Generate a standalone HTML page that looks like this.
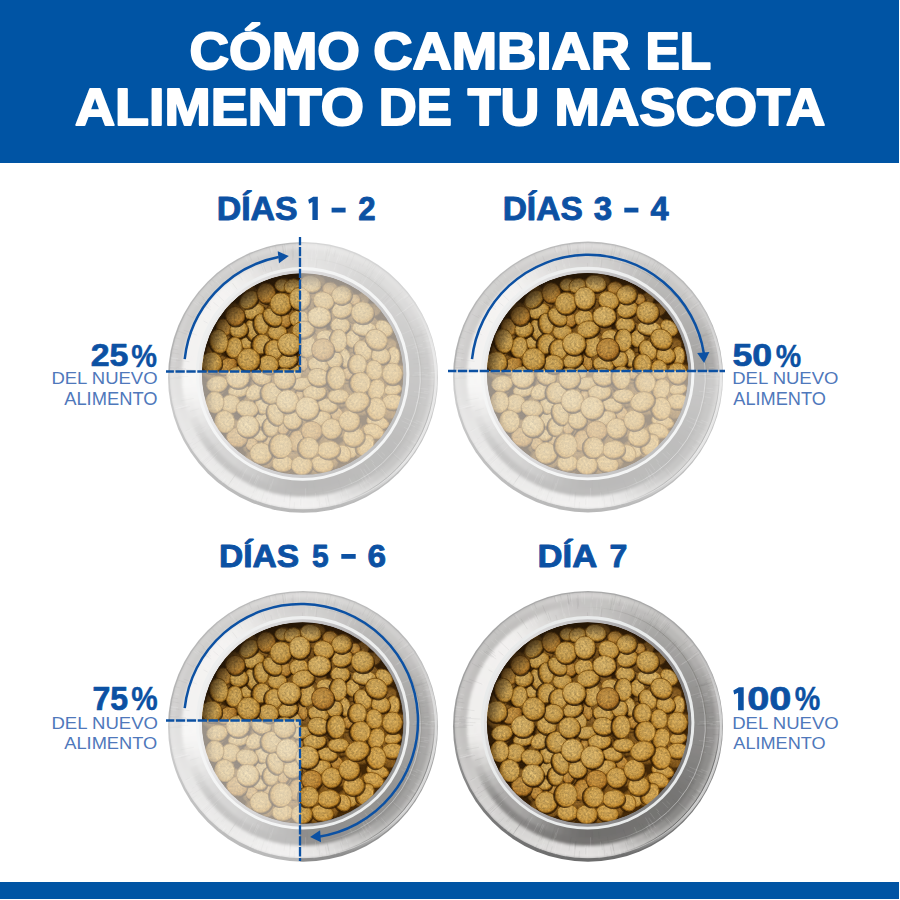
<!DOCTYPE html>
<html><head><meta charset="utf-8"><title>Cómo cambiar el alimento de tu mascota</title>
<style>html,body{margin:0;padding:0;background:#fff;}body{width:900px;height:900px;overflow:hidden;font-family:"Liberation Sans",sans-serif;}svg{display:block}</style>
</head><body>
<svg width="900" height="900" viewBox="0 0 900 900">

<defs>
<radialGradient id="kl" cx="0.46" cy="0.43" r="0.6">
 <stop offset="0" stop-color="#c8a967"/><stop offset="0.6" stop-color="#c19e59"/><stop offset="0.84" stop-color="#b4883a"/><stop offset="1" stop-color="#9a6b22"/>
</radialGradient>
<radialGradient id="km" cx="0.46" cy="0.43" r="0.6">
 <stop offset="0" stop-color="#c19f5b"/><stop offset="0.58" stop-color="#ba944c"/><stop offset="0.84" stop-color="#ae7f30"/><stop offset="1" stop-color="#93641e"/>
</radialGradient>
<radialGradient id="ko" cx="0.46" cy="0.43" r="0.6">
 <stop offset="0" stop-color="#b48a45"/><stop offset="0.58" stop-color="#ac7e37"/><stop offset="0.84" stop-color="#9c6824"/><stop offset="1" stop-color="#825317"/>
</radialGradient>
<linearGradient id="warm" x1="0.15" y1="0.1" x2="0.9" y2="0.95">
 <stop offset="0" stop-color="#403000" stop-opacity="0.10"/><stop offset="0.45" stop-color="#ff9a10" stop-opacity="0"/><stop offset="1" stop-color="#ff9a10" stop-opacity="0.13"/>
</linearGradient>
<radialGradient id="kd" cx="0.45" cy="0.4" r="0.65">
 <stop offset="0" stop-color="#805a26"/><stop offset="0.7" stop-color="#6c4919"/><stop offset="1" stop-color="#48300e"/>
</radialGradient>
<linearGradient id="edge" x1="0" y1="0" x2="0" y2="1">
 <stop offset="0" stop-color="#a9a9a9"/><stop offset="0.5" stop-color="#9a9a9a"/><stop offset="0.8" stop-color="#7c7c7c"/><stop offset="1" stop-color="#6c6c6c"/>
</linearGradient>
<linearGradient id="wall" x1="0" y1="0.3" x2="1" y2="0.75">
 <stop offset="0" stop-color="#ececec"/><stop offset="0.3" stop-color="#c2c0c2"/><stop offset="0.6" stop-color="#989698"/><stop offset="1" stop-color="#747474"/>
</linearGradient>
<filter id="soft" x="-0.05" y="-0.05" width="1.1" height="1.1"><feGaussianBlur stdDeviation="1.6"/></filter>
<clipPath id="lipclip"><ellipse cx="0" cy="-0.5" rx="133.3" ry="133"/></clipPath>
<radialGradient id="shade" cx="0.54" cy="0.56" r="0.56">
 <stop offset="0.86" stop-color="#1e1206" stop-opacity="0"/><stop offset="1" stop-color="#1e1206" stop-opacity="0.7"/>
</radialGradient>
<filter id="grain" x="-0.02" y="-0.02" width="1.04" height="1.04" color-interpolation-filters="sRGB">
 <feTurbulence type="fractalNoise" baseFrequency="0.45" numOctaves="3" seed="7" result="n"/>
 <feColorMatrix in="n" type="matrix" values="0.5 0.5 0 0 0  0.5 0.5 0 0 0  0.5 0.5 0 0 0  0 0 0 0 1" result="g"/>
 <feComposite in="SourceGraphic" in2="g" operator="arithmetic" k1="0.76" k2="0.65" k3="0" k4="0" result="c"/>
 <feComposite in="c" in2="SourceGraphic" operator="in" result="d"/>
 <feGaussianBlur in="d" stdDeviation="0.45"/>
</filter>
<clipPath id="foodclip"><circle cx="-0.4" cy="-2.7" r="100.75"/></clipPath>
<linearGradient id="af0" gradientUnits="userSpaceOnUse" x1="-10.3" y1="-118.0" x2="59.3" y2="102.6"><stop offset="0" stop-color="#77756f" stop-opacity="0"/><stop offset="0.25" stop-color="#77756f" stop-opacity="0.55"/><stop offset="0.75" stop-color="#77756f" stop-opacity="0.55"/><stop offset="1" stop-color="#77756f" stop-opacity="0"/></linearGradient>
<linearGradient id="af1" gradientUnits="userSpaceOnUse" x1="96.1" y1="-67.3" x2="10.2" y2="116.9"><stop offset="0" stop-color="#dddddd" stop-opacity="0"/><stop offset="0.25" stop-color="#dddddd" stop-opacity="0.6"/><stop offset="0.75" stop-color="#dddddd" stop-opacity="0.6"/><stop offset="1" stop-color="#dddddd" stop-opacity="0"/></linearGradient>
<linearGradient id="af2" gradientUnits="userSpaceOnUse" x1="94.0" y1="-94.0" x2="34.4" y2="128.5"><stop offset="0" stop-color="#dcdcdc" stop-opacity="0"/><stop offset="0.25" stop-color="#dcdcdc" stop-opacity="0.8"/><stop offset="0.75" stop-color="#dcdcdc" stop-opacity="0.8"/><stop offset="1" stop-color="#dcdcdc" stop-opacity="0"/></linearGradient>
<linearGradient id="af3" gradientUnits="userSpaceOnUse" x1="130.8" y1="-11.4" x2="34.0" y2="126.8"><stop offset="0" stop-color="#5c5c5c" stop-opacity="0"/><stop offset="0.25" stop-color="#5c5c5c" stop-opacity="0.75"/><stop offset="0.75" stop-color="#5c5c5c" stop-opacity="0.75"/><stop offset="1" stop-color="#5c5c5c" stop-opacity="0"/></linearGradient>
<g id="bowl">
 <ellipse cx="0" cy="0.6" rx="135" ry="135.4" fill="url(#edge)"/>
 <g clip-path="url(#lipclip)"><g filter="url(#soft)">
 <polygon points="134.0,-1.7 133.6,10.4 127.1,9.9 127.5,-1.6" fill="#b0aead"/>
<polygon points="133.8,7.6 132.5,19.7 126.1,18.7 127.3,7.2" fill="#b0aead"/>
<polygon points="132.9,16.9 130.8,28.8 124.4,27.4 126.4,16.1" fill="#afadac"/>
<polygon points="131.4,26.1 128.4,37.9 122.2,36.0 125.0,24.8" fill="#aeadab"/>
<polygon points="129.2,35.2 125.4,46.7 119.3,44.4 122.9,33.5" fill="#adacaa"/>
<polygon points="126.4,44.1 121.8,55.3 115.9,52.6 120.3,41.9" fill="#acaba9"/>
<polygon points="123.0,52.8 117.6,63.7 111.9,60.6 117.0,50.2" fill="#abaaa8"/>
<polygon points="119.0,61.2 112.9,71.7 107.4,68.2 113.2,58.2" fill="#aaa9a7"/>
<polygon points="114.4,69.3 107.6,79.4 102.4,75.5 108.8,65.9" fill="#a9a8a6"/>
<polygon points="109.2,77.1 101.7,86.6 96.8,82.4 103.9,73.3" fill="#a9a7a6"/>
<polygon points="103.5,84.5 95.4,93.5 90.8,89.0 98.5,80.4" fill="#a8a7a5"/>
<polygon points="97.4,91.5 88.6,99.9 84.3,95.1 92.6,87.0" fill="#a8a7a5"/>
<polygon points="90.7,98.0 81.4,105.8 77.4,100.7 86.3,93.3" fill="#aaa9a7"/>
<polygon points="83.6,104.1 73.8,111.2 70.2,105.8 79.5,99.0" fill="#aeadab"/>
<polygon points="76.1,109.7 65.8,116.1 62.6,110.4 72.4,104.3" fill="#b4b3b1"/>
<polygon points="68.2,114.7 57.5,120.4 54.7,114.5 64.9,109.1" fill="#bbbab8"/>
<polygon points="60.0,119.2 48.9,124.1 46.5,118.1 57.1,113.4" fill="#c3c2c0"/>
<polygon points="51.5,123.0 40.1,127.2 38.1,121.0 49.0,117.1" fill="#cbc9c8"/>
<polygon points="42.7,126.3 31.1,129.7 29.5,123.4 40.7,120.2" fill="#d3d1d0"/>
<polygon points="33.8,129.0 21.9,131.5 20.8,125.1 32.1,122.7" fill="#d9d8d6"/>
<polygon points="24.6,131.0 12.6,132.7 12.0,126.3 23.5,124.6" fill="#dfdddc"/>
<polygon points="15.4,132.4 3.3,133.3 3.1,126.8 14.7,126.0" fill="#e3e1e0"/>
<polygon points="6.1,133.2 -6.1,133.2 -5.8,126.7 5.8,126.7" fill="#e4e2e1"/>
<polygon points="-3.3,133.3 -15.4,132.4 -14.7,126.0 -3.1,126.8" fill="#e4e2e1"/>
<polygon points="-12.6,132.7 -24.6,131.0 -23.5,124.6 -12.0,126.3" fill="#e3e1e0"/>
<polygon points="-21.9,131.5 -33.8,129.0 -32.1,122.7 -20.8,125.1" fill="#e2e0df"/>
<polygon points="-31.1,129.7 -42.7,126.3 -40.7,120.2 -29.5,123.4" fill="#e1dfde"/>
<polygon points="-40.1,127.2 -51.5,123.0 -49.0,117.1 -38.1,121.0" fill="#dfdddc"/>
<polygon points="-48.9,124.1 -60.0,119.2 -57.1,113.4 -46.5,118.1" fill="#dddcda"/>
<polygon points="-57.5,120.4 -68.2,114.7 -64.9,109.1 -54.7,114.5" fill="#dcdad9"/>
<polygon points="-65.8,116.1 -76.1,109.7 -72.4,104.3 -62.6,110.4" fill="#dad9d7"/>
<polygon points="-73.8,111.2 -83.6,104.1 -79.5,99.0 -70.2,105.8" fill="#d9d8d6"/>
<polygon points="-81.4,105.8 -90.7,98.0 -86.3,93.3 -77.4,100.7" fill="#d8d7d5"/>
<polygon points="-88.6,99.9 -97.4,91.5 -92.6,87.0 -84.3,95.1" fill="#d8d7d5"/>
<polygon points="-95.4,93.5 -103.5,84.5 -98.5,80.4 -90.8,89.0" fill="#d8d6d5"/>
<polygon points="-101.7,86.6 -109.2,77.1 -103.9,73.3 -96.8,82.4" fill="#d7d5d4"/>
<polygon points="-107.6,79.4 -114.4,69.3 -108.8,65.9 -102.4,75.5" fill="#d6d4d3"/>
<polygon points="-112.9,71.7 -119.0,61.2 -113.2,58.2 -107.4,68.2" fill="#d4d2d1"/>
<polygon points="-117.6,63.7 -123.0,52.8 -117.0,50.2 -111.9,60.6" fill="#d2d0cf"/>
<polygon points="-121.8,55.3 -126.4,44.1 -120.3,41.9 -115.9,52.6" fill="#d0cecd"/>
<polygon points="-125.4,46.7 -129.2,35.2 -122.9,33.5 -119.3,44.4" fill="#cecccb"/>
<polygon points="-128.4,37.9 -131.4,26.1 -125.0,24.8 -122.2,36.0" fill="#cccac9"/>
<polygon points="-130.8,28.8 -132.9,16.9 -126.4,16.1 -124.4,27.4" fill="#cac9c7"/>
<polygon points="-132.5,19.7 -133.8,7.6 -127.3,7.2 -126.1,18.7" fill="#c9c7c6"/>
<polygon points="-133.6,10.4 -134.0,-1.7 -127.5,-1.6 -127.1,9.9" fill="#c8c7c5"/>
<polygon points="-134.0,1.1 -133.6,-11.0 -127.1,-10.5 -127.5,1.0" fill="#c8c6c5"/>
<polygon points="-133.8,-8.2 -132.5,-20.3 -126.1,-19.3 -127.3,-7.8" fill="#c8c6c5"/>
<polygon points="-132.9,-17.5 -130.8,-29.4 -124.4,-28.0 -126.4,-16.7" fill="#c8c6c5"/>
<polygon points="-131.4,-26.7 -128.4,-38.5 -122.2,-36.6 -125.0,-25.4" fill="#c8c6c5"/>
<polygon points="-129.2,-35.8 -125.4,-47.3 -119.3,-45.0 -122.9,-34.1" fill="#c7c6c4"/>
<polygon points="-126.4,-44.7 -121.8,-55.9 -115.9,-53.2 -120.3,-42.5" fill="#c7c6c4"/>
<polygon points="-123.0,-53.4 -117.6,-64.3 -111.9,-61.2 -117.0,-50.8" fill="#c7c5c4"/>
<polygon points="-119.0,-61.8 -112.9,-72.3 -107.4,-68.8 -113.2,-58.8" fill="#c7c5c4"/>
<polygon points="-114.4,-69.9 -107.6,-80.0 -102.4,-76.1 -108.8,-66.5" fill="#c6c5c3"/>
<polygon points="-109.2,-77.7 -101.7,-87.2 -96.8,-83.0 -103.9,-73.9" fill="#c6c5c3"/>
<polygon points="-103.5,-85.1 -95.4,-94.1 -90.8,-89.6 -98.5,-81.0" fill="#c6c5c3"/>
<polygon points="-97.4,-92.1 -88.6,-100.5 -84.3,-95.7 -92.6,-87.6" fill="#c6c5c3"/>
<polygon points="-90.7,-98.6 -81.4,-106.4 -77.4,-101.3 -86.3,-93.9" fill="#c6c5c3"/>
<polygon points="-83.6,-104.7 -73.8,-111.8 -70.2,-106.4 -79.5,-99.6" fill="#c7c6c4"/>
<polygon points="-76.1,-110.3 -65.8,-116.7 -62.6,-111.0 -72.4,-104.9" fill="#c9c7c6"/>
<polygon points="-68.2,-115.3 -57.5,-121.0 -54.7,-115.1 -64.9,-109.7" fill="#cac9c7"/>
<polygon points="-60.0,-119.8 -48.9,-124.7 -46.5,-118.7 -57.1,-114.0" fill="#cccbc9"/>
<polygon points="-51.5,-123.6 -40.1,-127.8 -38.1,-121.6 -49.0,-117.7" fill="#cecdcb"/>
<polygon points="-42.7,-126.9 -31.1,-130.3 -29.5,-124.0 -40.7,-120.8" fill="#d0cecd"/>
<polygon points="-33.8,-129.6 -21.9,-132.1 -20.8,-125.7 -32.1,-123.3" fill="#d2d0cf"/>
<polygon points="-24.6,-131.6 -12.6,-133.3 -12.0,-126.9 -23.5,-125.2" fill="#d3d1d0"/>
<polygon points="-15.4,-133.0 -3.3,-133.9 -3.1,-127.4 -14.7,-126.6" fill="#d4d2d1"/>
<polygon points="-6.1,-133.8 6.1,-133.8 5.8,-127.3 -5.8,-127.3" fill="#d4d2d1"/>
<polygon points="3.3,-133.9 15.4,-133.0 14.7,-126.6 3.1,-127.4" fill="#d4d2d1"/>
<polygon points="12.6,-133.3 24.6,-131.6 23.5,-125.2 12.0,-126.9" fill="#d3d1d0"/>
<polygon points="21.9,-132.1 33.8,-129.6 32.1,-123.3 20.8,-125.7" fill="#d1d0ce"/>
<polygon points="31.1,-130.3 42.7,-126.9 40.7,-120.8 29.5,-124.0" fill="#cfcecc"/>
<polygon points="40.1,-127.8 51.5,-123.6 49.0,-117.7 38.1,-121.6" fill="#cdccca"/>
<polygon points="48.9,-124.7 60.0,-119.8 57.1,-114.0 46.5,-118.7" fill="#cbcac8"/>
<polygon points="57.5,-121.0 68.2,-115.3 64.9,-109.7 54.7,-115.1" fill="#c9c8c6"/>
<polygon points="65.8,-116.7 76.1,-110.3 72.4,-104.9 62.6,-111.0" fill="#c7c6c4"/>
<polygon points="73.8,-111.8 83.6,-104.7 79.5,-99.6 70.2,-106.4" fill="#c6c4c3"/>
<polygon points="81.4,-106.4 90.7,-98.6 86.3,-93.9 77.4,-101.3" fill="#c5c3c2"/>
<polygon points="88.6,-100.5 97.4,-92.1 92.6,-87.6 84.3,-95.7" fill="#c4c3c1"/>
<polygon points="95.4,-94.1 103.5,-85.1 98.5,-81.0 90.8,-89.6" fill="#c4c2c1"/>
<polygon points="101.7,-87.2 109.2,-77.7 103.9,-73.9 96.8,-83.0" fill="#c3c1c0"/>
<polygon points="107.6,-80.0 114.4,-69.9 108.8,-66.5 102.4,-76.1" fill="#c1bfbe"/>
<polygon points="112.9,-72.3 119.0,-61.8 113.2,-58.8 107.4,-68.8" fill="#bfbdbc"/>
<polygon points="117.6,-64.3 123.0,-53.4 117.0,-50.8 111.9,-61.2" fill="#bcbbb9"/>
<polygon points="121.8,-55.9 126.4,-44.7 120.3,-42.5 115.9,-53.2" fill="#bab8b7"/>
<polygon points="125.4,-47.3 129.2,-35.8 122.9,-34.1 119.3,-45.0" fill="#b7b6b4"/>
<polygon points="128.4,-38.5 131.4,-26.7 125.0,-25.4 122.2,-36.6" fill="#b5b3b2"/>
<polygon points="130.8,-29.4 132.9,-17.5 126.4,-16.7 124.4,-28.0" fill="#b3b1b0"/>
<polygon points="132.5,-20.3 133.8,-8.2 127.3,-7.8 126.1,-19.3" fill="#b1afae"/>
<polygon points="133.6,-11.0 134.0,1.1 127.5,1.0 127.1,-10.5" fill="#b0afad"/>
<polygon points="128.0,-1.6 127.6,9.9 120.1,9.3 120.5,-1.6" fill="#92908f"/>
<polygon points="127.8,7.3 126.6,18.8 119.1,17.7 120.3,6.8" fill="#92908f"/>
<polygon points="126.9,16.1 124.9,27.5 117.6,25.9 119.5,15.2" fill="#918f8e"/>
<polygon points="125.5,24.9 122.7,36.2 115.5,34.0 118.1,23.4" fill="#908f8d"/>
<polygon points="123.4,33.6 119.8,44.6 112.8,42.0 116.2,31.6" fill="#8f8e8c"/>
<polygon points="120.7,42.1 116.4,52.8 109.6,49.7 113.7,39.6" fill="#8e8d8b"/>
<polygon points="117.5,50.4 112.4,60.8 105.8,57.2 110.6,47.4" fill="#8d8c8a"/>
<polygon points="113.6,58.4 107.8,68.5 101.5,64.4 107.0,55.0" fill="#8c8b89"/>
<polygon points="109.3,66.2 102.8,75.8 96.7,71.3 102.9,62.3" fill="#8b8a88"/>
<polygon points="104.3,73.6 97.2,82.7 91.5,77.9 98.2,69.3" fill="#8b8988"/>
<polygon points="98.9,80.7 91.1,89.3 85.8,84.1 93.1,76.0" fill="#8a8987"/>
<polygon points="93.0,87.4 84.6,95.4 79.7,89.8 87.6,82.2" fill="#8a8987"/>
<polygon points="86.6,93.6 77.7,101.1 73.2,95.1 81.6,88.1" fill="#8d8c8a"/>
<polygon points="79.9,99.4 70.5,106.2 66.3,100.0 75.2,93.6" fill="#939290"/>
<polygon points="72.7,104.7 62.8,110.9 59.2,104.4 68.4,98.6" fill="#9c9a99"/>
<polygon points="65.2,109.5 54.9,115.0 51.7,108.2 61.3,103.1" fill="#a6a5a3"/>
<polygon points="57.3,113.8 46.7,118.5 44.0,111.6 54.0,107.1" fill="#b2b0af"/>
<polygon points="49.2,117.5 38.3,121.5 36.0,114.3 46.3,110.6" fill="#bdbcba"/>
<polygon points="40.8,120.7 29.7,123.8 27.9,116.6 38.4,113.6" fill="#c9c7c6"/>
<polygon points="32.3,123.2 20.9,125.6 19.7,118.2 30.4,116.0" fill="#d3d1d0"/>
<polygon points="23.5,125.1 12.0,126.7 11.3,119.3 22.2,117.8" fill="#dbd9d8"/>
<polygon points="14.7,126.5 3.1,127.3 2.9,119.8 13.8,119.0" fill="#e0dfdd"/>
<polygon points="5.8,127.2 -5.8,127.2 -5.5,119.7 5.5,119.7" fill="#e2e0df"/>
<polygon points="-3.1,127.3 -14.7,126.5 -13.8,119.0 -2.9,119.8" fill="#e2e0df"/>
<polygon points="-12.0,126.7 -23.5,125.1 -22.2,117.8 -11.3,119.3" fill="#e1dfde"/>
<polygon points="-20.9,125.6 -32.3,123.2 -30.4,116.0 -19.7,118.2" fill="#e0dedd"/>
<polygon points="-29.7,123.8 -40.8,120.7 -38.4,113.6 -27.9,116.6" fill="#dedcdb"/>
<polygon points="-38.3,121.5 -49.2,117.5 -46.3,110.6 -36.0,114.3" fill="#dcdbd9"/>
<polygon points="-46.7,118.5 -57.3,113.8 -54.0,107.1 -44.0,111.6" fill="#dad9d7"/>
<polygon points="-54.9,115.0 -65.2,109.5 -61.3,103.1 -51.7,108.2" fill="#d8d7d5"/>
<polygon points="-62.8,110.9 -72.7,104.7 -68.4,98.6 -59.2,104.4" fill="#d7d5d4"/>
<polygon points="-70.5,106.2 -79.9,99.4 -75.2,93.6 -66.3,100.0" fill="#d5d4d2"/>
<polygon points="-77.7,101.1 -86.6,93.6 -81.6,88.1 -73.2,95.1" fill="#d4d3d1"/>
<polygon points="-84.6,95.4 -93.0,87.4 -87.6,82.2 -79.7,89.8" fill="#d4d3d1"/>
<polygon points="-91.1,89.3 -98.9,80.7 -93.1,76.0 -85.8,84.1" fill="#d4d2d1"/>
<polygon points="-97.2,82.7 -104.3,73.6 -98.2,69.3 -91.5,77.9" fill="#d3d1d0"/>
<polygon points="-102.8,75.8 -109.3,66.2 -102.9,62.3 -96.7,71.3" fill="#d1d0ce"/>
<polygon points="-107.8,68.5 -113.6,58.4 -107.0,55.0 -101.5,64.4" fill="#d0cecd"/>
<polygon points="-112.4,60.8 -117.5,50.4 -110.6,47.4 -105.8,57.2" fill="#cdccca"/>
<polygon points="-116.4,52.8 -120.7,42.1 -113.7,39.6 -109.6,49.7" fill="#cbcac8"/>
<polygon points="-119.8,44.6 -123.4,33.6 -116.2,31.6 -112.8,42.0" fill="#c9c7c6"/>
<polygon points="-122.7,36.2 -125.5,24.9 -118.1,23.4 -115.5,34.0" fill="#c7c5c4"/>
<polygon points="-124.9,27.5 -126.9,16.1 -119.5,15.2 -117.6,25.9" fill="#c5c4c2"/>
<polygon points="-126.6,18.8 -127.8,7.3 -120.3,6.8 -119.1,17.7" fill="#c4c2c1"/>
<polygon points="-127.6,9.9 -128.0,-1.6 -120.5,-1.6 -120.1,9.3" fill="#c3c2c0"/>
<polygon points="-128.0,1.0 -127.6,-10.5 -120.1,-9.9 -120.5,1.0" fill="#c3c1c0"/>
<polygon points="-127.8,-7.9 -126.6,-19.4 -119.1,-18.3 -120.3,-7.4" fill="#c3c1c0"/>
<polygon points="-126.9,-16.7 -124.9,-28.1 -117.6,-26.5 -119.5,-15.8" fill="#c3c1c0"/>
<polygon points="-125.5,-25.5 -122.7,-36.8 -115.5,-34.6 -118.1,-24.0" fill="#c2c1bf"/>
<polygon points="-123.4,-34.2 -119.8,-45.2 -112.8,-42.6 -116.2,-32.2" fill="#c2c0bf"/>
<polygon points="-120.7,-42.7 -116.4,-53.4 -109.6,-50.3 -113.7,-40.2" fill="#c2c0bf"/>
<polygon points="-117.5,-51.0 -112.4,-61.4 -105.8,-57.8 -110.6,-48.0" fill="#c1c0be"/>
<polygon points="-113.6,-59.0 -107.8,-69.1 -101.5,-65.0 -107.0,-55.6" fill="#c1bfbe"/>
<polygon points="-109.3,-66.8 -102.8,-76.4 -96.7,-71.9 -102.9,-62.9" fill="#c0bfbd"/>
<polygon points="-104.3,-74.2 -97.2,-83.3 -91.5,-78.5 -98.2,-69.9" fill="#c0bfbd"/>
<polygon points="-98.9,-81.3 -91.1,-89.9 -85.8,-84.7 -93.1,-76.6" fill="#c0bfbd"/>
<polygon points="-93.0,-88.0 -84.6,-96.0 -79.7,-90.4 -87.6,-82.8" fill="#c0bfbd"/>
<polygon points="-86.6,-94.2 -77.7,-101.7 -73.2,-95.7 -81.6,-88.7" fill="#c0bfbd"/>
<polygon points="-79.9,-100.0 -70.5,-106.8 -66.3,-100.6 -75.2,-94.2" fill="#c1bfbe"/>
<polygon points="-72.7,-105.3 -62.8,-111.5 -59.2,-105.0 -68.4,-99.2" fill="#c1c0be"/>
<polygon points="-65.2,-110.1 -54.9,-115.6 -51.7,-108.8 -61.3,-103.7" fill="#c2c0bf"/>
<polygon points="-57.3,-114.4 -46.7,-119.1 -44.0,-112.2 -54.0,-107.7" fill="#c2c1bf"/>
<polygon points="-49.2,-118.1 -38.3,-122.1 -36.0,-114.9 -46.3,-111.2" fill="#c3c1c0"/>
<polygon points="-40.8,-121.3 -29.7,-124.4 -27.9,-117.2 -38.4,-114.2" fill="#c4c2c1"/>
<polygon points="-32.3,-123.8 -20.9,-126.2 -19.7,-118.8 -30.4,-116.6" fill="#c4c3c1"/>
<polygon points="-23.5,-125.7 -12.0,-127.3 -11.3,-119.9 -22.2,-118.4" fill="#c5c3c2"/>
<polygon points="-14.7,-127.1 -3.1,-127.9 -2.9,-120.4 -13.8,-119.6" fill="#c5c3c2"/>
<polygon points="-5.8,-127.8 5.8,-127.8 5.5,-120.3 -5.5,-120.3" fill="#c5c4c2"/>
<polygon points="3.1,-127.9 14.7,-127.1 13.8,-119.6 2.9,-120.4" fill="#c5c3c2"/>
<polygon points="12.0,-127.3 23.5,-125.7 22.2,-118.4 11.3,-119.9" fill="#c4c3c1"/>
<polygon points="20.9,-126.2 32.3,-123.8 30.4,-116.6 19.7,-118.8" fill="#c3c2c0"/>
<polygon points="29.7,-124.4 40.8,-121.3 38.4,-114.2 27.9,-117.2" fill="#c2c0bf"/>
<polygon points="38.3,-122.1 49.2,-118.1 46.3,-111.2 36.0,-114.9" fill="#c0bfbd"/>
<polygon points="46.7,-119.1 57.3,-114.4 54.0,-107.7 44.0,-112.2" fill="#bfbdbc"/>
<polygon points="54.9,-115.6 65.2,-110.1 61.3,-103.7 51.7,-108.8" fill="#bebcbb"/>
<polygon points="62.8,-111.5 72.7,-105.3 68.4,-99.2 59.2,-105.0" fill="#bcbbb9"/>
<polygon points="70.5,-106.8 79.9,-100.0 75.2,-94.2 66.3,-100.6" fill="#bbbab8"/>
<polygon points="77.7,-101.7 86.6,-94.2 81.6,-88.7 73.2,-95.7" fill="#bab9b7"/>
<polygon points="84.6,-96.0 93.0,-88.0 87.6,-82.8 79.7,-90.4" fill="#bab9b7"/>
<polygon points="91.1,-89.9 98.9,-81.3 93.1,-76.6 85.8,-84.7" fill="#b9b8b6"/>
<polygon points="97.2,-83.3 104.3,-74.2 98.2,-69.9 91.5,-78.5" fill="#b7b6b4"/>
<polygon points="102.8,-76.4 109.3,-66.8 102.9,-62.9 96.7,-71.9" fill="#b4b2b1"/>
<polygon points="107.8,-69.1 113.6,-59.0 107.0,-55.6 101.5,-65.0" fill="#b0aead"/>
<polygon points="112.4,-61.4 117.5,-51.0 110.6,-48.0 105.8,-57.8" fill="#aba9a8"/>
<polygon points="116.4,-53.4 120.7,-42.7 113.7,-40.2 109.6,-50.3" fill="#a5a4a2"/>
<polygon points="119.8,-45.2 123.4,-34.2 116.2,-32.2 112.8,-42.6" fill="#a09f9d"/>
<polygon points="122.7,-36.8 125.5,-25.5 118.1,-24.0 115.5,-34.6" fill="#9b9a98"/>
<polygon points="124.9,-28.1 126.9,-16.7 119.5,-15.8 117.6,-26.5" fill="#979694"/>
<polygon points="126.6,-19.4 127.8,-7.9 120.3,-7.4 119.1,-18.3" fill="#949291"/>
<polygon points="127.6,-10.5 128.0,1.0 120.5,1.0 120.1,-9.9" fill="#92918f"/>
<polygon points="121.0,-1.6 120.6,9.4 112.1,8.7 112.5,-1.5" fill="#8c8a89"/>
<polygon points="120.8,6.9 119.6,17.7 111.2,16.5 112.3,6.4" fill="#8b8988"/>
<polygon points="120.0,15.2 118.1,26.0 109.8,24.2 111.6,14.1" fill="#898886"/>
<polygon points="118.6,23.5 116.0,34.2 107.8,31.7 110.3,21.9" fill="#878584"/>
<polygon points="116.7,31.7 113.3,42.1 105.3,39.2 108.5,29.5" fill="#848381"/>
<polygon points="114.1,39.8 110.0,49.9 102.3,46.4 106.1,37.0" fill="#81807e"/>
<polygon points="111.0,47.6 106.2,57.4 98.8,53.4 103.2,44.2" fill="#7e7d7b"/>
<polygon points="107.4,55.2 101.9,64.7 94.8,60.1 99.9,51.3" fill="#7c7a79"/>
<polygon points="103.3,62.6 97.1,71.6 90.3,66.6 96.0,58.1" fill="#797876"/>
<polygon points="98.6,69.6 91.9,78.2 85.4,72.7 91.7,64.7" fill="#777674"/>
<polygon points="93.5,76.3 86.2,84.4 80.1,78.5 86.9,70.9" fill="#767573"/>
<polygon points="87.9,82.6 80.0,90.2 74.4,83.8 81.7,76.8" fill="#767473"/>
<polygon points="81.9,88.5 73.5,95.5 68.3,88.8 76.1,82.3" fill="#767473"/>
<polygon points="75.5,94.0 66.6,100.4 61.9,93.3 70.2,87.4" fill="#767473"/>
<polygon points="68.7,99.0 59.4,104.8 55.2,97.4 63.9,92.0" fill="#767473"/>
<polygon points="61.6,103.5 51.9,108.7 48.3,101.0 57.3,96.2" fill="#757472"/>
<polygon points="54.2,107.6 44.2,112.0 41.0,104.1 50.4,100.0" fill="#757472"/>
<polygon points="46.5,111.1 36.2,114.8 33.6,106.7 43.2,103.2" fill="#757372"/>
<polygon points="38.6,114.0 28.0,117.1 26.1,108.8 35.9,106.0" fill="#757372"/>
<polygon points="30.5,116.4 19.8,118.7 18.4,110.4 28.4,108.2" fill="#747371"/>
<polygon points="22.3,118.3 11.4,119.8 10.6,111.4 20.7,109.9" fill="#747371"/>
<polygon points="13.9,119.5 3.0,120.3 2.7,111.8 12.9,111.1" fill="#747371"/>
<polygon points="5.5,120.2 -5.5,120.2 -5.1,111.7 5.1,111.7" fill="#747271"/>
<polygon points="-3.0,120.3 -13.9,119.5 -12.9,111.1 -2.7,111.8" fill="#747371"/>
<polygon points="-11.4,119.8 -22.3,118.3 -20.7,109.9 -10.6,111.4" fill="#767473"/>
<polygon points="-19.8,118.7 -30.5,116.4 -28.4,108.2 -18.4,110.4" fill="#787675"/>
<polygon points="-28.0,117.1 -38.6,114.0 -35.9,106.0 -26.1,108.8" fill="#7a7977"/>
<polygon points="-36.2,114.8 -46.5,111.1 -43.2,103.2 -33.6,106.7" fill="#7d7c7a"/>
<polygon points="-44.2,112.0 -54.2,107.6 -50.4,100.0 -41.0,104.1" fill="#807f7d"/>
<polygon points="-51.9,108.7 -61.6,103.5 -57.3,96.2 -48.3,101.0" fill="#838180"/>
<polygon points="-59.4,104.8 -68.7,99.0 -63.9,92.0 -55.2,97.4" fill="#868483"/>
<polygon points="-66.6,100.4 -75.5,94.0 -70.2,87.4 -61.9,93.3" fill="#888685"/>
<polygon points="-73.5,95.5 -81.9,88.5 -76.1,82.3 -68.3,88.8" fill="#898886"/>
<polygon points="-80.0,90.2 -87.9,82.6 -81.7,76.8 -74.4,83.8" fill="#8a8887"/>
<polygon points="-86.2,84.4 -93.5,76.3 -86.9,70.9 -80.1,78.5" fill="#8b8a88"/>
<polygon points="-91.9,78.2 -98.6,69.6 -91.7,64.7 -85.4,72.7" fill="#918f8e"/>
<polygon points="-97.1,71.6 -103.3,62.6 -96.0,58.1 -90.3,66.6" fill="#999896"/>
<polygon points="-101.9,64.7 -107.4,55.2 -99.9,51.3 -94.8,60.1" fill="#a4a3a1"/>
<polygon points="-106.2,57.4 -111.0,47.6 -103.2,44.2 -98.8,53.4" fill="#b1b0ae"/>
<polygon points="-110.0,49.9 -114.1,39.8 -106.1,37.0 -102.3,46.4" fill="#bfbdbc"/>
<polygon points="-113.3,42.1 -116.7,31.7 -108.5,29.5 -105.3,39.2" fill="#cccbc9"/>
<polygon points="-116.0,34.2 -118.6,23.5 -110.3,21.9 -107.8,31.7" fill="#d9d7d6"/>
<polygon points="-118.1,26.0 -120.0,15.2 -111.6,14.1 -109.8,24.2" fill="#e3e2e0"/>
<polygon points="-119.6,17.7 -120.8,6.9 -112.3,6.4 -111.2,16.5" fill="#ebeae8"/>
<polygon points="-120.6,9.4 -121.0,-1.6 -112.5,-1.5 -112.1,8.7" fill="#efeeec"/>
<polygon points="-121.0,1.0 -120.6,-10.0 -112.1,-9.3 -112.5,0.9" fill="#f0efed"/>
<polygon points="-120.8,-7.5 -119.6,-18.3 -111.2,-17.1 -112.3,-7.0" fill="#f0efed"/>
<polygon points="-120.0,-15.8 -118.1,-26.6 -109.8,-24.8 -111.6,-14.7" fill="#f0efed"/>
<polygon points="-118.6,-24.1 -116.0,-34.8 -107.8,-32.3 -110.3,-22.5" fill="#f0efed"/>
<polygon points="-116.7,-32.3 -113.3,-42.7 -105.3,-39.8 -108.5,-30.1" fill="#f1efee"/>
<polygon points="-114.1,-40.4 -110.0,-50.5 -102.3,-47.0 -106.1,-37.6" fill="#f1efee"/>
<polygon points="-111.0,-48.2 -106.2,-58.0 -98.8,-54.0 -103.2,-44.8" fill="#f1f0ee"/>
<polygon points="-107.4,-55.8 -101.9,-65.3 -94.8,-60.7 -99.9,-51.9" fill="#f1f0ee"/>
<polygon points="-103.3,-63.2 -97.1,-72.2 -90.3,-67.2 -96.0,-58.7" fill="#f2f0ef"/>
<polygon points="-98.6,-70.2 -91.9,-78.8 -85.4,-73.3 -91.7,-65.3" fill="#f2f0ef"/>
<polygon points="-93.5,-76.9 -86.2,-85.0 -80.1,-79.1 -86.9,-71.5" fill="#f2f0ef"/>
<polygon points="-87.9,-83.2 -80.0,-90.8 -74.4,-84.4 -81.7,-77.4" fill="#f2f0ef"/>
<polygon points="-81.9,-89.1 -73.5,-96.1 -68.3,-89.4 -76.1,-82.9" fill="#f0efed"/>
<polygon points="-75.5,-94.6 -66.6,-101.0 -61.9,-93.9 -70.2,-88.0" fill="#edecea"/>
<polygon points="-68.7,-99.6 -59.4,-105.4 -55.2,-98.0 -63.9,-92.6" fill="#e9e8e6"/>
<polygon points="-61.6,-104.1 -51.9,-109.3 -48.3,-101.6 -57.3,-96.8" fill="#e4e2e1"/>
<polygon points="-54.2,-108.2 -44.2,-112.6 -41.0,-104.7 -50.4,-100.6" fill="#dedddb"/>
<polygon points="-46.5,-111.7 -36.2,-115.4 -33.6,-107.3 -43.2,-103.8" fill="#d8d7d5"/>
<polygon points="-38.6,-114.6 -28.0,-117.7 -26.1,-109.4 -35.9,-106.6" fill="#d3d1d0"/>
<polygon points="-30.5,-117.0 -19.8,-119.3 -18.4,-111.0 -28.4,-108.8" fill="#cecccb"/>
<polygon points="-22.3,-118.9 -11.4,-120.4 -10.6,-112.0 -20.7,-110.5" fill="#cac8c7"/>
<polygon points="-13.9,-120.1 -3.0,-120.9 -2.7,-112.4 -12.9,-111.7" fill="#c7c5c4"/>
<polygon points="-5.5,-120.8 5.5,-120.8 5.1,-112.3 -5.1,-112.3" fill="#c6c4c3"/>
<polygon points="3.0,-120.9 13.9,-120.1 12.9,-111.7 2.7,-112.4" fill="#c5c4c2"/>
<polygon points="11.4,-120.4 22.3,-118.9 20.7,-110.5 10.6,-112.0" fill="#c3c2c0"/>
<polygon points="19.8,-119.3 30.5,-117.0 28.4,-108.8 18.4,-111.0" fill="#c0bfbd"/>
<polygon points="28.0,-117.7 38.6,-114.6 35.9,-106.6 26.1,-109.4" fill="#bdbbba"/>
<polygon points="36.2,-115.4 46.5,-111.7 43.2,-103.8 33.6,-107.3" fill="#b9b7b6"/>
<polygon points="44.2,-112.6 54.2,-108.2 50.4,-100.6 41.0,-104.7" fill="#b4b3b1"/>
<polygon points="51.9,-109.3 61.6,-104.1 57.3,-96.8 48.3,-101.6" fill="#b0afad"/>
<polygon points="59.4,-105.4 68.7,-99.6 63.9,-92.6 55.2,-98.0" fill="#acaba9"/>
<polygon points="66.6,-101.0 75.5,-94.6 70.2,-88.0 61.9,-93.9" fill="#a9a8a6"/>
<polygon points="73.5,-96.1 81.9,-89.1 76.1,-82.9 68.3,-89.4" fill="#a7a6a4"/>
<polygon points="80.0,-90.8 87.9,-83.2 81.7,-77.4 74.4,-84.4" fill="#a6a5a3"/>
<polygon points="86.2,-85.0 93.5,-76.9 86.9,-71.5 80.1,-79.1" fill="#a6a4a3"/>
<polygon points="91.9,-78.8 98.6,-70.2 91.7,-65.3 85.4,-73.3" fill="#a4a3a1"/>
<polygon points="97.1,-72.2 103.3,-63.2 96.0,-58.7 90.3,-67.2" fill="#a2a19f"/>
<polygon points="101.9,-65.3 107.4,-55.8 99.9,-51.9 94.8,-60.7" fill="#9f9e9c"/>
<polygon points="106.2,-58.0 111.0,-48.2 103.2,-44.8 98.8,-54.0" fill="#9c9b99"/>
<polygon points="110.0,-50.5 114.1,-40.4 106.1,-37.6 102.3,-47.0" fill="#999796"/>
<polygon points="113.3,-42.7 116.7,-32.3 108.5,-30.1 105.3,-39.8" fill="#959492"/>
<polygon points="116.0,-34.8 118.6,-24.1 110.3,-22.5 107.8,-32.3" fill="#92908f"/>
<polygon points="118.1,-26.6 120.0,-15.8 111.6,-14.7 109.8,-24.8" fill="#8f8e8c"/>
<polygon points="119.6,-18.3 120.8,-7.5 112.3,-7.0 111.2,-17.1" fill="#8d8c8a"/>
<polygon points="120.6,-10.0 121.0,1.0 112.5,0.9 112.1,-9.3" fill="#8c8b89"/>
<polygon points="113.0,-1.5 112.6,8.7 98.7,7.6 99.0,-1.3" fill="#8c8a89"/>
<polygon points="112.8,6.4 111.7,16.5 97.9,14.5 98.8,5.6" fill="#8b8988"/>
<polygon points="112.1,14.2 110.3,24.3 96.6,21.2 98.2,12.4" fill="#898886"/>
<polygon points="110.8,22.0 108.3,31.9 94.9,27.9 97.0,19.2" fill="#878584"/>
<polygon points="108.9,29.6 105.8,39.3 92.7,34.4 95.4,25.9" fill="#848381"/>
<polygon points="106.6,37.1 102.7,46.6 90.0,40.8 93.4,32.5" fill="#81807e"/>
<polygon points="103.7,44.4 99.2,53.6 86.9,46.9 90.9,38.9" fill="#7e7d7b"/>
<polygon points="100.3,51.5 95.2,60.4 83.4,52.9 87.9,45.1" fill="#7c7a79"/>
<polygon points="96.5,58.4 90.7,66.9 79.5,58.5 84.5,51.1" fill="#797876"/>
<polygon points="92.1,65.0 85.8,73.0 75.2,63.9 80.7,56.9" fill="#777674"/>
<polygon points="87.3,71.2 80.5,78.8 70.5,69.0 76.5,62.3" fill="#767573"/>
<polygon points="82.1,77.1 74.7,84.2 65.5,73.7 71.9,67.5" fill="#767473"/>
<polygon points="76.5,82.6 68.6,89.2 60.1,78.1 67.0,72.4" fill="#767473"/>
<polygon points="70.5,87.7 62.2,93.8 54.5,82.1 61.8,76.8" fill="#757472"/>
<polygon points="64.2,92.4 55.5,97.9 48.6,85.7 56.2,80.9" fill="#757372"/>
<polygon points="57.5,96.7 48.5,101.5 42.5,88.9 50.4,84.7" fill="#747371"/>
<polygon points="50.6,100.4 41.2,104.6 36.1,91.6 44.3,88.0" fill="#737270"/>
<polygon points="43.4,103.7 33.8,107.2 29.6,93.9 38.0,90.8" fill="#737170"/>
<polygon points="36.0,106.5 26.2,109.3 22.9,95.7 31.6,93.2" fill="#72706f"/>
<polygon points="28.5,108.7 18.5,110.8 16.2,97.1 25.0,95.2" fill="#71706e"/>
<polygon points="20.8,110.4 10.6,111.9 9.3,98.0 18.2,96.7" fill="#716f6e"/>
<polygon points="13.0,111.6 2.8,112.3 2.4,98.4 11.4,97.7" fill="#706f6d"/>
<polygon points="5.1,112.2 -5.1,112.2 -4.5,98.3 4.5,98.3" fill="#706e6d"/>
<polygon points="-2.8,112.3 -13.0,111.6 -11.4,97.7 -2.4,98.4" fill="#71706e"/>
<polygon points="-10.6,111.9 -20.8,110.4 -18.2,96.7 -9.3,98.0" fill="#757372"/>
<polygon points="-18.5,110.8 -28.5,108.7 -25.0,95.2 -16.2,97.1" fill="#7a7977"/>
<polygon points="-26.2,109.3 -36.0,106.5 -31.6,93.2 -22.9,95.7" fill="#817f7e"/>
<polygon points="-33.8,107.2 -43.4,103.7 -38.0,90.8 -29.6,93.9" fill="#888785"/>
<polygon points="-41.2,104.6 -50.6,100.4 -44.3,88.0 -36.1,91.6" fill="#908e8d"/>
<polygon points="-48.5,101.5 -57.5,96.7 -50.4,84.7 -42.5,88.9" fill="#979694"/>
<polygon points="-55.5,97.9 -64.2,92.4 -56.2,80.9 -48.6,85.7" fill="#9e9d9b"/>
<polygon points="-62.2,93.8 -70.5,87.7 -61.8,76.8 -54.5,82.1" fill="#a4a2a1"/>
<polygon points="-68.6,89.2 -76.5,82.6 -67.0,72.4 -60.1,78.1" fill="#a8a7a5"/>
<polygon points="-74.7,84.2 -82.1,77.1 -71.9,67.5 -65.5,73.7" fill="#aaa8a7"/>
<polygon points="-80.5,78.8 -87.3,71.2 -76.5,62.3 -70.5,69.0" fill="#aba9a8"/>
<polygon points="-85.8,73.0 -92.1,65.0 -80.7,56.9 -75.2,63.9" fill="#afadac"/>
<polygon points="-90.7,66.9 -96.5,58.4 -84.5,51.1 -79.5,58.5" fill="#b5b3b2"/>
<polygon points="-95.2,60.4 -100.3,51.5 -87.9,45.1 -83.4,52.9" fill="#bcbbb9"/>
<polygon points="-99.2,53.6 -103.7,44.4 -90.9,38.9 -86.9,46.9" fill="#c5c3c2"/>
<polygon points="-102.7,46.6 -106.6,37.1 -93.4,32.5 -90.0,40.8" fill="#cecdcb"/>
<polygon points="-105.8,39.3 -108.9,29.6 -95.4,25.9 -92.7,34.4" fill="#d7d6d4"/>
<polygon points="-108.3,31.9 -110.8,22.0 -97.0,19.2 -94.9,27.9" fill="#e0dedd"/>
<polygon points="-110.3,24.3 -112.1,14.2 -98.2,12.4 -96.6,21.2" fill="#e7e6e4"/>
<polygon points="-111.7,16.5 -112.8,6.4 -98.8,5.6 -97.9,14.5" fill="#edebea"/>
<polygon points="-112.6,8.7 -113.0,-1.5 -99.0,-1.3 -98.7,7.6" fill="#f0eeed"/>
<polygon points="-113.0,0.9 -112.6,-9.3 -98.7,-8.2 -99.0,0.7" fill="#f0efed"/>
<polygon points="-112.8,-7.0 -111.7,-17.1 -97.9,-15.1 -98.8,-6.2" fill="#f0efed"/>
<polygon points="-112.1,-14.8 -110.3,-24.9 -96.6,-21.8 -98.2,-13.0" fill="#f0efed"/>
<polygon points="-110.8,-22.6 -108.3,-32.5 -94.9,-28.5 -97.0,-19.8" fill="#f0efed"/>
<polygon points="-108.9,-30.2 -105.8,-39.9 -92.7,-35.0 -95.4,-26.5" fill="#f1efee"/>
<polygon points="-106.6,-37.7 -102.7,-47.2 -90.0,-41.4 -93.4,-33.1" fill="#f1efee"/>
<polygon points="-103.7,-45.0 -99.2,-54.2 -86.9,-47.5 -90.9,-39.5" fill="#f1f0ee"/>
<polygon points="-100.3,-52.1 -95.2,-61.0 -83.4,-53.5 -87.9,-45.7" fill="#f1f0ee"/>
<polygon points="-96.5,-59.0 -90.7,-67.5 -79.5,-59.1 -84.5,-51.7" fill="#f2f0ef"/>
<polygon points="-92.1,-65.6 -85.8,-73.6 -75.2,-64.5 -80.7,-57.5" fill="#f2f0ef"/>
<polygon points="-87.3,-71.8 -80.5,-79.4 -70.5,-69.6 -76.5,-62.9" fill="#f2f0ef"/>
<polygon points="-82.1,-77.7 -74.7,-84.8 -65.5,-74.3 -71.9,-68.1" fill="#f2f0ef"/>
<polygon points="-76.5,-83.2 -68.6,-89.8 -60.1,-78.7 -67.0,-73.0" fill="#f1efee"/>
<polygon points="-70.5,-88.3 -62.2,-94.4 -54.5,-82.7 -61.8,-77.4" fill="#eeeceb"/>
<polygon points="-64.2,-93.0 -55.5,-98.5 -48.6,-86.3 -56.2,-81.5" fill="#eae8e7"/>
<polygon points="-57.5,-97.3 -48.5,-102.1 -42.5,-89.5 -50.4,-85.3" fill="#e5e4e2"/>
<polygon points="-50.6,-101.0 -41.2,-105.2 -36.1,-92.2 -44.3,-88.6" fill="#e0dedd"/>
<polygon points="-43.4,-104.3 -33.8,-107.8 -29.6,-94.5 -38.0,-91.4" fill="#dbd9d8"/>
<polygon points="-36.0,-107.1 -26.2,-109.9 -22.9,-96.3 -31.6,-93.8" fill="#d6d4d3"/>
<polygon points="-28.5,-109.3 -18.5,-111.4 -16.2,-97.7 -25.0,-95.8" fill="#d1d0ce"/>
<polygon points="-20.8,-111.0 -10.6,-112.5 -9.3,-98.6 -18.2,-97.3" fill="#cdccca"/>
<polygon points="-13.0,-112.2 -2.8,-112.9 -2.4,-99.0 -11.4,-98.3" fill="#cbc9c8"/>
<polygon points="-5.1,-112.8 5.1,-112.8 4.5,-98.9 -4.5,-98.9" fill="#cac8c7"/>
<polygon points="2.8,-112.9 13.0,-112.2 11.4,-98.3 2.4,-99.0" fill="#c9c8c6"/>
<polygon points="10.6,-112.5 20.8,-111.0 18.2,-97.3 9.3,-98.6" fill="#c7c5c4"/>
<polygon points="18.5,-111.4 28.5,-109.3 25.0,-95.8 16.2,-97.7" fill="#c3c2c0"/>
<polygon points="26.2,-109.9 36.0,-107.1 31.6,-93.8 22.9,-96.3" fill="#bfbdbc"/>
<polygon points="33.8,-107.8 43.4,-104.3 38.0,-91.4 29.6,-94.5" fill="#bab8b7"/>
<polygon points="41.2,-105.2 50.6,-101.0 44.3,-88.6 36.1,-92.2" fill="#b5b3b2"/>
<polygon points="48.5,-102.1 57.5,-97.3 50.4,-85.3 42.5,-89.5" fill="#afaeac"/>
<polygon points="55.5,-98.5 64.2,-93.0 56.2,-81.5 48.6,-86.3" fill="#aba9a8"/>
<polygon points="62.2,-94.4 70.5,-88.3 61.8,-77.4 54.5,-82.7" fill="#a7a6a4"/>
<polygon points="68.6,-89.8 76.5,-83.2 67.0,-73.0 60.1,-78.7" fill="#a4a3a1"/>
<polygon points="74.7,-84.8 82.1,-77.7 71.9,-68.1 65.5,-74.3" fill="#a3a2a0"/>
<polygon points="80.5,-79.4 87.3,-71.8 76.5,-62.9 70.5,-69.6" fill="#a3a1a0"/>
<polygon points="85.8,-73.6 92.1,-65.6 80.7,-57.5 75.2,-64.5" fill="#a2a09f"/>
<polygon points="90.7,-67.5 96.5,-59.0 84.5,-51.7 79.5,-59.1" fill="#a09e9d"/>
<polygon points="95.2,-61.0 100.3,-52.1 87.9,-45.7 83.4,-53.5" fill="#9d9c9a"/>
<polygon points="99.2,-54.2 103.7,-45.0 90.9,-39.5 86.9,-47.5" fill="#9a9997"/>
<polygon points="102.7,-47.2 106.6,-37.7 93.4,-33.1 90.0,-41.4" fill="#979694"/>
<polygon points="105.8,-39.9 108.9,-30.2 95.4,-26.5 92.7,-35.0" fill="#949391"/>
<polygon points="108.3,-32.5 110.8,-22.6 97.0,-19.8 94.9,-28.5" fill="#91908e"/>
<polygon points="110.3,-24.9 112.1,-14.8 98.2,-13.0 96.6,-21.8" fill="#8f8d8c"/>
<polygon points="111.7,-17.1 112.8,-7.0 98.8,-6.2 97.9,-15.1" fill="#8d8c8a"/>
<polygon points="112.6,-9.3 113.0,0.9 99.0,0.7 98.7,-8.2" fill="#8c8b89"/>
 </g></g>
 <path d="M123.4 -35.0L127.9 -36.3M108.2 63.9L115.0 67.9M-54.7 -99.1L-60.2 -109.0M-93.7 -74.4L-98.3 -78.1M-104.5 48.6L-116.0 54.0M128.2 -4.2L133.4 -4.3M-105.6 38.1L-109.8 39.6M115.2 20.1L122.9 21.4M-92.6 86.9L-97.3 91.4M-103.6 -41.4L-107.6 -43.0M-49.7 97.3L-54.3 106.3M121.8 -1.0L128.0 -1.1M97.9 -77.3L104.7 -82.8M103.2 -68.6L111.2 -73.9M-78.3 102.6L-81.0 106.1M65.5 105.0L70.7 113.2M-115.0 28.4L-124.6 30.8M104.9 -53.6L117.3 -59.9M-77.0 100.7L-81.1 106.0M-115.8 28.9L-129.5 32.4M-19.3 -115.8L-20.4 -122.4M-55.4 109.2L-58.1 114.6M94.0 -61.4L106.5 -69.6M-47.0 119.6L-48.8 124.3M-118.1 -3.2L-129.9 -3.5M-96.5 -59.5L-102.0 -62.9M-127.6 -9.6L-133.1 -10.0M111.5 57.1L118.8 60.9M92.4 -60.6L103.2 -67.7M113.2 43.8L120.0 46.4M18.5 125.2L19.3 130.4M-124.8 -17.7L-131.7 -18.6M31.1 122.8L32.8 129.4M-22.0 -104.5L-23.7 -112.6M57.4 107.4L59.8 111.8M102.3 -30.0L114.5 -33.6M111.0 14.8L124.7 16.7M60.8 92.1L67.6 102.3M-80.5 70.5L-92.5 80.9M62.0 87.0L66.8 93.6M-92.5 -81.8L-96.5 -85.3M-55.6 91.1L-60.5 99.1M12.4 -122.8L13.4 -132.8M4.5 -126.2L4.7 -133.4M-109.7 18.9L-121.4 21.0M-43.9 99.1L-47.7 107.7M77.0 -77.2L84.7 -85.0M-92.4 73.6L-96.9 77.1M108.5 -28.1L119.4 -30.9M-93.2 51.4L-102.5 56.6M68.1 82.9L70.9 86.3M57.3 91.8L63.5 101.7M-128.9 -6.7L-133.3 -6.9M111.4 -3.8L120.7 -4.2M-0.6 119.9L-0.6 131.4M38.1 -116.6L40.3 -123.3M-104.8 55.0L-108.4 56.9M112.7 25.6L117.9 26.8M-18.3 -110.1L-19.2 -115.3M46.3 101.4L49.1 107.4M-115.9 -15.2L-123.6 -16.2M-69.8 -86.3L-79.2 -97.9M119.8 -28.3L128.8 -30.4M-119.3 -8.6L-123.9 -9.0M-103.0 58.3L-108.4 61.3M103.8 69.4L110.8 74.1M-126.7 -15.4L-132.5 -16.1M-31.8 125.1L-32.9 129.4M121.2 14.6L126.4 15.2M-43.3 118.1L-45.9 125.3M116.0 11.5L124.9 12.4M-110.5 9.8L-121.5 10.8M100.8 50.4L108.4 54.2M99.0 -42.6L111.0 -47.8M42.3 111.7L45.4 119.8M-120.4 28.3L-128.9 30.3M78.5 75.4L82.1 78.8M71.2 -97.9L78.5 -108.0M-37.6 -99.7L-41.8 -110.9M20.9 -121.2L22.6 -131.0M-73.0 91.1L-81.5 101.7M-14.1 117.5L-15.2 127.2M119.9 -35.1L128.1 -37.5M58.1 -96.9L61.6 -102.7M-111.8 7.9L-120.9 8.5M-54.9 -115.1L-57.5 -120.5M44.8 -98.6L48.2 -106.1M109.4 -1.5L118.4 -1.7M98.6 44.0L112.1 50.1M120.9 -8.6L126.4 -9.0M-32.0 106.7L-35.5 118.3M-48.8 -105.6L-53.1 -114.9M90.5 76.9L101.7 86.4M3.9 -108.2L4.3 -118.4M-24.2 -109.4L-27.4 -123.8M-118.9 29.8L-127.4 31.9M124.3 -3.8L133.4 -4.1M71.5 91.8L74.1 95.3M-104.7 -71.3L-109.8 -74.8M-117.1 -7.5L-125.9 -8.1M-31.5 -124.1L-32.8 -129.4M-126.7 22.1L-131.5 23.0M-3.3 -121.4L-3.7 -133.4M66.6 -89.2L73.4 -98.4M-99.6 69.8L-109.3 76.6M-70.4 -79.6L-76.7 -86.8M-30.3 -123.1L-31.9 -129.6M42.9 -97.4L49.1 -111.4M-15.5 -119.3L-17.2 -132.4M81.1 -71.8L91.5 -81.0M11.8 -110.1L13.2 -122.9M-94.7 -57.0L-106.4 -64.0M78.0 91.7L83.9 98.7M-2.8 119.3L-3.0 128.9M35.9 123.6L37.2 128.2M117.4 2.2L131.4 2.5M-67.3 -103.8L-72.7 -112.0M-51.8 -101.4L-55.1 -107.8M-106.6 -1.9L-111.6 -2.0M2.7 -110.0L3.1 -123.0M24.8 -112.8L27.3 -124.6M29.4 -122.8L30.7 -128.3M60.0 98.1L65.0 106.2M-29.5 102.1L-32.5 112.3M112.1 -23.7L122.4 -25.8M-86.0 78.4L-96.7 88.2M-43.5 113.2L-47.0 122.3M-123.8 -30.6L-128.5 -31.8M51.0 -101.0L56.3 -111.5M34.5 -116.4L36.9 -124.7M58.4 -91.1L64.6 -100.9M-91.8 74.9L-102.8 83.8M35.8 -115.4L38.1 -122.7M12.5 116.1L13.2 122.8M-22.1 126.6L-22.9 131.5M48.0 -104.4L51.5 -112.0M-44.9 98.0L-48.9 106.6M58.3 100.7L62.1 107.2M100.7 -78.5L105.3 -82.1M-81.7 -98.3L-85.3 -102.7M90.5 65.3L95.5 69.0M-49.9 -103.4L-53.5 -110.8M31.2 -107.0L35.0 -120.2M-77.5 -85.6L-86.8 -95.8M-69.4 106.0L-73.1 111.7M-122.2 -2.0L-133.5 -2.2M-5.8 -123.5L-6.2 -133.4M113.7 -48.7L122.7 -52.6M-31.2 116.5L-34.3 128.2M-77.6 85.3L-81.7 89.8M110.3 -30.0L119.7 -32.6M86.6 -68.4L98.8 -78.1M74.4 76.4L80.2 82.3M-80.8 98.7L-84.6 103.3M8.4 -115.9L9.2 -126.4M10.4 125.2L11.1 133.0M-26.1 118.1L-27.4 123.8M-51.7 116.8L-53.8 121.5M69.4 86.3L73.8 91.8M-98.2 53.7L-105.3 57.5M2.5 111.6L2.7 122.9M-59.3 98.2L-66.2 109.6M101.3 41.3L114.4 46.7M-112.4 53.1L-117.5 55.5M-124.6 -18.1L-132.1 -19.2M13.7 -119.6L14.7 -128.2M115.2 -1.9L124.9 -2.1M-82.9 -77.4L-93.2 -87.0M-98.0 -68.9L-106.6 -74.9M128.7 -12.2L132.9 -12.6" stroke="#fff" stroke-width="0.7" opacity="0.16" fill="none"/>
 <path d="M18.8 127.2L19.5 132.1M-30.3 -103.7L-32.2 -110.4M110.9 -0.6L122.6 -0.7M-112.8 29.6L-122.4 32.1M44.6 117.3L46.4 122.1M10.6 105.9L11.3 113.1M-106.4 69.7L-111.7 73.2M84.7 73.4L96.7 83.9M111.2 46.6L119.1 49.8M-60.5 -96.5L-67.1 -107.0M-121.3 1.8L-133.5 2.0M-95.3 -53.6L-99.5 -55.9M110.8 -39.1L116.8 -41.2M112.8 -39.8L124.8 -44.0M82.6 -76.7L88.7 -82.3M78.7 -75.7L88.2 -84.8M99.9 70.3L109.2 76.8M119.7 -38.9L127.0 -41.3M35.4 103.7L38.7 113.4M-107.5 -6.6L-122.3 -7.5M-122.3 -5.7L-129.0 -6.0M4.1 106.2L4.4 114.3M-12.2 115.3L-13.1 123.8M64.2 -109.5L67.2 -114.8M-87.4 66.7L-96.9 73.9M109.4 -17.4L122.4 -19.5M-32.9 101.1L-37.0 113.6M-60.0 92.2L-65.0 99.9M13.3 114.9L14.3 124.2M-104.3 59.1L-110.8 62.7M89.3 60.8L93.6 63.7M-113.5 -15.0L-127.0 -16.8M-122.6 -3.8L-133.4 -4.1M98.2 41.0L103.4 43.2M-90.3 78.3L-100.0 86.7M-76.6 103.4L-79.0 106.7M56.9 -95.2L64.3 -107.7M125.9 26.6L130.6 27.6M119.4 -7.2L125.5 -7.5M114.3 -21.9L119.2 -22.8M-92.8 -72.4L-100.4 -78.3M61.5 89.9L67.7 98.9M-104.2 31.9L-113.1 34.6M-18.8 -121.4L-20.3 -130.9M-89.9 70.9L-95.2 75.0M37.7 110.2L39.4 115.2M-19.1 -121.2L-20.8 -131.9M113.4 16.2L122.5 17.5M107.2 71.2L111.2 73.9M-122.6 -2.0L-129.0 -2.1M15.3 117.4L16.9 130.2M-63.9 -84.8L-70.7 -93.9M103.8 -66.9L112.2 -72.3M110.5 -12.7L118.0 -13.6M-123.3 -37.8L-127.6 -39.1M117.5 -45.3L124.6 -48.0M-90.8 -90.9L-94.3 -94.5M-35.7 120.7L-37.5 126.8M-88.0 93.7L-91.4 97.3M-42.8 104.4L-47.2 114.9M67.1 -102.0L73.4 -111.5M-17.2 -124.1L-18.4 -132.2M-75.2 88.4L-81.6 95.9M-123.6 -22.7L-130.7 -24.0M111.9 51.5L118.5 54.5M-95.2 52.5L-107.4 59.3M-16.9 111.6L-19.0 125.1M-112.5 -3.0L-127.1 -3.4M-97.4 60.2L-110.6 68.5M30.9 -119.7L32.6 -126.4M46.5 -110.7L51.7 -123.1M-83.9 91.7L-90.1 98.5M-92.5 78.6L-101.8 86.4M127.5 -5.5L133.4 -5.8M78.6 91.2L86.5 100.4M99.8 60.8L112.1 68.3M105.8 -71.5L110.1 -74.4M-98.8 -78.7L-104.4 -83.2M-45.5 96.8L-51.9 110.4M76.8 -94.0L82.1 -100.5M59.2 -110.3L63.2 -117.6M-91.9 -66.6L-98.1 -71.0M-71.1 88.7L-77.5 96.7M92.7 80.7L98.9 86.1M60.2 94.5L64.8 101.8M-112.9 52.1L-117.7 54.3M19.3 111.2L20.4 117.3M-0.4 -108.6L-0.4 -113.2M-115.8 -42.4L-125.4 -45.9M-105.8 -41.5L-119.4 -46.8M-10.2 -116.8L-11.1 -127.5M119.1 -50.6L122.9 -52.2M76.4 84.2L82.4 90.7M60.4 108.2L62.7 112.3M91.0 -77.8L99.7 -85.2M-110.1 65.3L-114.8 68.1M101.6 -77.3L106.3 -80.8M116.9 -12.3L125.2 -13.1M65.9 -98.3L70.2 -104.7M-49.8 -106.1L-52.2 -111.1M61.7 -100.3L69.9 -113.6M-125.2 -26.9L-130.5 -28.0M24.0 115.9L26.7 128.8M54.9 -108.0L57.4 -112.9M-84.0 66.0L-90.7 71.2M107.3 -38.8L119.0 -43.1M-79.0 -75.6L-87.9 -84.1M96.8 53.0L106.4 58.2M89.6 92.3L93.0 95.8M-87.9 -94.0L-91.2 -97.5M106.9 -0.6L118.1 -0.7M-72.0 -107.3L-74.4 -110.9M114.6 -39.8L123.7 -43.0M53.9 97.7L57.9 105.0M-65.3 94.4L-73.0 105.6M-85.4 85.4L-88.5 88.6M77.8 94.9L84.6 103.2M-41.2 98.5L-43.9 104.7M-73.3 88.1L-80.2 96.3M-38.7 114.9L-42.6 126.5M25.6 -120.7L27.7 -130.6M-8.5 125.5L-9.0 132.9M74.3 -89.7L81.7 -98.6M-121.4 0.6L-129.5 0.6M-108.7 -58.3L-116.0 -62.3M-94.2 -68.9L-102.0 -74.6M-88.5 79.4L-97.8 87.7M50.5 97.1L56.9 109.4M105.9 65.8L113.4 70.5M24.4 118.5L25.8 125.4M81.4 -74.9L85.4 -78.5M119.7 28.0L126.0 29.5M-50.7 118.6L-52.5 122.8M-9.3 -119.2L-10.2 -130.8M124.8 8.7L132.7 9.2M70.7 -91.6L79.9 -103.4M129.0 0.4L133.5 0.4M-117.0 -8.1L-132.8 -9.2M-26.7 -126.3L-27.6 -130.6M-97.6 49.6L-102.7 52.2M-32.4 -124.2L-33.7 -129.2M-68.2 98.8L-75.0 108.5M-2.3 122.3L-2.4 128.7M105.9 18.7L115.6 20.4M-37.0 -105.0L-39.9 -113.2M-39.3 -105.1L-42.9 -114.7M-92.2 -69.6L-97.4 -73.5M-43.1 -114.6L-45.4 -120.5M42.8 -113.6L47.1 -124.9M22.2 -115.5L24.6 -127.9M-47.8 111.5L-49.8 116.1M-66.8 97.1L-75.1 109.2M-51.4 -116.5L-53.9 -122.1M118.5 -22.0L129.7 -24.1M-109.1 21.6L-122.4 24.2M-84.4 -70.2L-89.7 -74.6M22.4 120.9L24.3 131.3M37.0 116.4L40.3 126.7M-12.1 115.8L-13.8 131.6M70.6 86.4L77.6 95.0M68.4 -107.8L71.5 -112.8M12.9 -108.0L13.9 -116.6M75.7 -95.2L81.5 -102.5M-95.6 -68.2L-104.2 -74.3M96.2 -85.8L99.6 -88.9M4.1 -128.1L4.3 -133.4M-114.8 -0.3L-124.6 -0.4M-105.2 -58.4L-109.9 -61.0M112.5 -0.8L123.1 -0.9M38.6 114.5L40.1 119.2" stroke="#444" stroke-width="0.7" opacity="0.10" fill="none"/>
 <path d="M-10.3 -118.0 A118.5 118.5 0 0 1 59.3 102.6" fill="none" stroke="url(#af0)" stroke-width="0.9"/>
<path d="M96.1 -67.3 A117.3 117.3 0 0 1 10.2 116.9" fill="none" stroke="url(#af1)" stroke-width="0.9"/>
<path d="M94.0 -94.0 A133 133 0 0 1 34.4 128.5" fill="none" stroke="url(#af2)" stroke-width="2.6"/>
<path d="M130.8 -11.4 A131.3 131.3 0 0 1 34.0 126.8" fill="none" stroke="url(#af3)" stroke-width="1.0"/>
 <circle cx="-0.4" cy="-2.9" r="106.8" fill="#e9ebeb"/>
 <circle cx="-0.4" cy="-2.7" r="103.8" fill="url(#wall)"/>
 <g clip-path="url(#foodclip)">
 <g filter="url(#grain)">
 <circle cx="-0.4" cy="-2.7" r="101" fill="#2e1b06"/>
 <ellipse cx="5.3" cy="67.4" rx="8.9" ry="7.5" transform="rotate(143 5.3 67.4)" fill="url(#kd)" stroke="#4a2f0e" stroke-width="0.9"/>
<ellipse cx="-50.5" cy="51.3" rx="9.4" ry="7.5" transform="rotate(166 -50.5 51.3)" fill="url(#kd)" stroke="#4a2f0e" stroke-width="0.9"/>
<ellipse cx="-17.1" cy="-19.8" rx="8.0" ry="6.9" transform="rotate(170 -17.1 -19.8)" fill="url(#kd)" stroke="#4a2f0e" stroke-width="0.9"/>
<ellipse cx="86.6" cy="4.7" rx="9.0" ry="7.8" transform="rotate(20 86.6 4.7)" fill="url(#kd)" stroke="#4a2f0e" stroke-width="0.9"/>
<ellipse cx="-2.7" cy="43.4" rx="8.7" ry="6.5" transform="rotate(98 -2.7 43.4)" fill="url(#kd)" stroke="#4a2f0e" stroke-width="0.9"/>
<ellipse cx="65.1" cy="-4.3" rx="8.9" ry="6.0" transform="rotate(39 65.1 -4.3)" fill="url(#kd)" stroke="#4a2f0e" stroke-width="0.9"/>
<ellipse cx="33.9" cy="-58.6" rx="8.4" ry="7.8" transform="rotate(138 33.9 -58.6)" fill="url(#kd)" stroke="#4a2f0e" stroke-width="0.9"/>
<ellipse cx="-23.7" cy="-30.8" rx="8.2" ry="7.6" transform="rotate(25 -23.7 -30.8)" fill="url(#kd)" stroke="#4a2f0e" stroke-width="0.9"/>
<ellipse cx="-58.6" cy="-68.8" rx="8.9" ry="6.3" transform="rotate(0 -58.6 -68.8)" fill="url(#kd)" stroke="#4a2f0e" stroke-width="0.9"/>
<ellipse cx="-80.9" cy="-14.4" rx="9.3" ry="6.4" transform="rotate(39 -80.9 -14.4)" fill="url(#kd)" stroke="#4a2f0e" stroke-width="0.9"/>
<ellipse cx="3.8" cy="-75.4" rx="9.5" ry="7.7" transform="rotate(52 3.8 -75.4)" fill="url(#kd)" stroke="#4a2f0e" stroke-width="0.9"/>
<ellipse cx="-5.3" cy="13.4" rx="9.4" ry="7.1" transform="rotate(122 -5.3 13.4)" fill="url(#kd)" stroke="#4a2f0e" stroke-width="0.9"/>
<ellipse cx="43.4" cy="-51.4" rx="8.3" ry="7.9" transform="rotate(124 43.4 -51.4)" fill="url(#kd)" stroke="#4a2f0e" stroke-width="0.9"/>
<ellipse cx="-17.3" cy="-89.9" rx="9.4" ry="7.8" transform="rotate(54 -17.3 -89.9)" fill="url(#kd)" stroke="#4a2f0e" stroke-width="0.9"/>
<ellipse cx="-67.2" cy="49.6" rx="8.5" ry="6.3" transform="rotate(26 -67.2 49.6)" fill="url(#kd)" stroke="#4a2f0e" stroke-width="0.9"/>
<ellipse cx="-86.4" cy="28.8" rx="8.1" ry="6.6" transform="rotate(109 -86.4 28.8)" fill="url(#kd)" stroke="#4a2f0e" stroke-width="0.9"/>
<ellipse cx="21.5" cy="-23.0" rx="8.0" ry="7.4" transform="rotate(61 21.5 -23.0)" fill="url(#kd)" stroke="#4a2f0e" stroke-width="0.9"/>
<ellipse cx="29.1" cy="30.9" rx="8.5" ry="7.6" transform="rotate(87 29.1 30.9)" fill="url(#kd)" stroke="#4a2f0e" stroke-width="0.9"/>
<ellipse cx="61.3" cy="-16.0" rx="8.5" ry="7.0" transform="rotate(127 61.3 -16.0)" fill="url(#kd)" stroke="#4a2f0e" stroke-width="0.9"/>
<ellipse cx="-36.5" cy="-39.7" rx="8.1" ry="8.0" transform="rotate(4 -36.5 -39.7)" fill="url(#kd)" stroke="#4a2f0e" stroke-width="0.9"/>
<ellipse cx="-59.0" cy="-5.2" rx="9.1" ry="7.7" transform="rotate(3 -59.0 -5.2)" fill="url(#kd)" stroke="#4a2f0e" stroke-width="0.9"/>
<ellipse cx="-78.0" cy="-48.1" rx="9.2" ry="6.7" transform="rotate(104 -78.0 -48.1)" fill="url(#kd)" stroke="#4a2f0e" stroke-width="0.9"/>
<ellipse cx="-38.0" cy="-85.8" rx="8.0" ry="6.1" transform="rotate(33 -38.0 -85.8)" fill="url(#kd)" stroke="#4a2f0e" stroke-width="0.9"/>
<ellipse cx="58.6" cy="-76.7" rx="9.4" ry="6.4" transform="rotate(136 58.6 -76.7)" fill="url(#kd)" stroke="#4a2f0e" stroke-width="0.9"/>
<ellipse cx="59.2" cy="-42.9" rx="9.4" ry="7.9" transform="rotate(62 59.2 -42.9)" fill="url(#kd)" stroke="#4a2f0e" stroke-width="0.9"/>
<ellipse cx="-9.8" cy="-45.0" rx="8.5" ry="7.0" transform="rotate(140 -9.8 -45.0)" fill="url(#kd)" stroke="#4a2f0e" stroke-width="0.9"/>
<ellipse cx="72.2" cy="42.4" rx="8.2" ry="7.5" transform="rotate(144 72.2 42.4)" fill="url(#kd)" stroke="#4a2f0e" stroke-width="0.9"/>
<ellipse cx="-31.2" cy="17.2" rx="9.3" ry="6.1" transform="rotate(170 -31.2 17.2)" fill="url(#kd)" stroke="#4a2f0e" stroke-width="0.9"/>
<ellipse cx="-22.7" cy="77.6" rx="8.1" ry="6.7" transform="rotate(110 -22.7 77.6)" fill="url(#kd)" stroke="#4a2f0e" stroke-width="0.9"/>
<ellipse cx="68.9" cy="-66.5" rx="9.4" ry="6.7" transform="rotate(166 68.9 -66.5)" fill="url(#kd)" stroke="#4a2f0e" stroke-width="0.9"/>
<ellipse cx="-94.9" cy="-5.7" rx="8.8" ry="6.6" transform="rotate(57 -94.9 -5.7)" fill="url(#kd)" stroke="#4a2f0e" stroke-width="0.9"/>
<ellipse cx="19.7" cy="54.9" rx="8.3" ry="6.2" transform="rotate(27 19.7 54.9)" fill="url(#kd)" stroke="#4a2f0e" stroke-width="0.9"/>
<ellipse cx="85.4" cy="20.8" rx="9.0" ry="8.0" transform="rotate(29 85.4 20.8)" fill="url(#kd)" stroke="#4a2f0e" stroke-width="0.9"/>
<ellipse cx="-36.3" cy="83.1" rx="8.1" ry="8.0" transform="rotate(96 -36.3 83.1)" fill="url(#kd)" stroke="#4a2f0e" stroke-width="0.9"/>
<ellipse cx="46.5" cy="-37.8" rx="8.6" ry="6.5" transform="rotate(107 46.5 -37.8)" fill="url(#kd)" stroke="#4a2f0e" stroke-width="0.9"/>
<ellipse cx="-66.4" cy="14.4" rx="9.2" ry="6.9" transform="rotate(76 -66.4 14.4)" fill="url(#kd)" stroke="#4a2f0e" stroke-width="0.9"/>
<ellipse cx="-45.3" cy="-60.1" rx="8.1" ry="7.8" transform="rotate(6 -45.3 -60.1)" fill="url(#kd)" stroke="#4a2f0e" stroke-width="0.9"/>
<ellipse cx="-69.7" cy="-29.7" rx="8.7" ry="7.7" transform="rotate(24 -69.7 -29.7)" fill="url(#kd)" stroke="#4a2f0e" stroke-width="0.9"/>
<ellipse cx="-73.2" cy="31.3" rx="9.1" ry="7.9" transform="rotate(113 -73.2 31.3)" fill="url(#kd)" stroke="#4a2f0e" stroke-width="0.9"/>
<ellipse cx="-9.7" cy="-5.5" rx="9.2" ry="6.2" transform="rotate(78 -9.7 -5.5)" fill="url(#kd)" stroke="#4a2f0e" stroke-width="0.9"/>
<ellipse cx="74.0" cy="6.9" rx="8.2" ry="7.7" transform="rotate(53 74.0 6.9)" fill="url(#kd)" stroke="#4a2f0e" stroke-width="0.9"/>
<ellipse cx="-24.2" cy="-53.4" rx="8.7" ry="8.0" transform="rotate(153 -24.2 -53.4)" fill="url(#kd)" stroke="#4a2f0e" stroke-width="0.9"/>
<ellipse cx="23.2" cy="0.7" rx="9.5" ry="6.9" transform="rotate(88 23.2 0.7)" fill="url(#kd)" stroke="#4a2f0e" stroke-width="0.9"/>
<ellipse cx="-34.9" cy="37.6" rx="9.1" ry="7.0" transform="rotate(52 -34.9 37.6)" fill="url(#kd)" stroke="#4a2f0e" stroke-width="0.9"/>
<ellipse cx="-18.2" cy="52.9" rx="8.6" ry="6.3" transform="rotate(68 -18.2 52.9)" fill="url(#kd)" stroke="#4a2f0e" stroke-width="0.9"/>
<ellipse cx="2.2" cy="-17.9" rx="9.5" ry="7.9" transform="rotate(113 2.2 -17.9)" fill="url(#kd)" stroke="#4a2f0e" stroke-width="0.9"/>
<ellipse cx="-16.5" cy="39.2" rx="8.7" ry="6.7" transform="rotate(16 -16.5 39.2)" fill="url(#kd)" stroke="#4a2f0e" stroke-width="0.9"/>
<ellipse cx="15.4" cy="-46.3" rx="8.4" ry="7.6" transform="rotate(156 15.4 -46.3)" fill="url(#kd)" stroke="#4a2f0e" stroke-width="0.9"/>
<ellipse cx="-9.7" cy="-31.2" rx="8.5" ry="7.6" transform="rotate(139 -9.7 -31.2)" fill="url(#kd)" stroke="#4a2f0e" stroke-width="0.9"/>
<ellipse cx="-39.7" cy="63.0" rx="9.0" ry="7.3" transform="rotate(137 -39.7 63.0)" fill="url(#kd)" stroke="#4a2f0e" stroke-width="0.9"/>
<ellipse cx="5.2" cy="30.1" rx="8.5" ry="7.4" transform="rotate(51 5.2 30.1)" fill="url(#kd)" stroke="#4a2f0e" stroke-width="0.9"/>
<ellipse cx="-40.8" cy="-10.2" rx="8.7" ry="7.5" transform="rotate(124 -40.8 -10.2)" fill="url(#kd)" stroke="#4a2f0e" stroke-width="0.9"/>
<ellipse cx="30.4" cy="-84.0" rx="8.4" ry="7.9" transform="rotate(117 30.4 -84.0)" fill="url(#kd)" stroke="#4a2f0e" stroke-width="0.9"/>
<ellipse cx="20.3" cy="43.3" rx="8.9" ry="6.0" transform="rotate(98 20.3 43.3)" fill="url(#kd)" stroke="#4a2f0e" stroke-width="0.9"/>
<ellipse cx="-53.2" cy="26.9" rx="8.4" ry="7.3" transform="rotate(83 -53.2 26.9)" fill="url(#kd)" stroke="#4a2f0e" stroke-width="0.9"/>
<ellipse cx="32.9" cy="-20.4" rx="9.2" ry="7.3" transform="rotate(144 32.9 -20.4)" fill="url(#kd)" stroke="#4a2f0e" stroke-width="0.9"/>
<ellipse cx="-2.4" cy="-89.4" rx="8.5" ry="7.3" transform="rotate(133 -2.4 -89.4)" fill="url(#kd)" stroke="#4a2f0e" stroke-width="0.9"/>
<ellipse cx="-43.2" cy="-29.4" rx="9.2" ry="6.7" transform="rotate(152 -43.2 -29.4)" fill="url(#kd)" stroke="#4a2f0e" stroke-width="0.9"/>
<ellipse cx="79.9" cy="-43.9" rx="9.3" ry="7.4" transform="rotate(176 79.9 -43.9)" fill="url(#kd)" stroke="#4a2f0e" stroke-width="0.9"/>
<ellipse cx="-78.9" cy="45.0" rx="9.4" ry="7.0" transform="rotate(95 -78.9 45.0)" fill="url(#kd)" stroke="#4a2f0e" stroke-width="0.9"/>
<ellipse cx="-1.4" cy="85.7" rx="8.2" ry="7.7" transform="rotate(169 -1.4 85.7)" fill="url(#kd)" stroke="#4a2f0e" stroke-width="0.9"/>
<ellipse cx="-83.2" cy="9.5" rx="8.7" ry="7.4" transform="rotate(130 -83.2 9.5)" fill="url(#kd)" stroke="#4a2f0e" stroke-width="0.9"/>
<ellipse cx="40.1" cy="71.9" rx="9.1" ry="6.3" transform="rotate(140 40.1 71.9)" fill="url(#kd)" stroke="#4a2f0e" stroke-width="0.9"/>
<ellipse cx="47.1" cy="12.8" rx="8.9" ry="7.3" transform="rotate(76 47.1 12.8)" fill="url(#kd)" stroke="#4a2f0e" stroke-width="0.9"/>
<ellipse cx="-8.0" cy="66.0" rx="8.9" ry="7.5" transform="rotate(115 -8.0 66.0)" fill="url(#kd)" stroke="#4a2f0e" stroke-width="0.9"/>
<ellipse cx="31.8" cy="8.9" rx="9.1" ry="6.1" transform="rotate(29 31.8 8.9)" fill="url(#kd)" stroke="#4a2f0e" stroke-width="0.9"/>
<ellipse cx="17.6" cy="15.0" rx="8.7" ry="7.3" transform="rotate(39 17.6 15.0)" fill="url(#kd)" stroke="#4a2f0e" stroke-width="0.9"/>
<ellipse cx="86.7" cy="-16.4" rx="9.0" ry="7.3" transform="rotate(8 86.7 -16.4)" fill="url(#kd)" stroke="#4a2f0e" stroke-width="0.9"/>
<ellipse cx="57.7" cy="32.2" rx="8.7" ry="6.5" transform="rotate(10 57.7 32.2)" fill="url(#kd)" stroke="#4a2f0e" stroke-width="0.9"/>
<ellipse cx="50.5" cy="47.2" rx="8.2" ry="6.6" transform="rotate(33 50.5 47.2)" fill="url(#kd)" stroke="#4a2f0e" stroke-width="0.9"/>
<ellipse cx="-12.4" cy="-59.8" rx="8.3" ry="6.1" transform="rotate(84 -12.4 -59.8)" fill="url(#kd)" stroke="#4a2f0e" stroke-width="0.9"/>
<ellipse cx="11.9" cy="-59.9" rx="8.6" ry="7.2" transform="rotate(106 11.9 -59.9)" fill="url(#kd)" stroke="#4a2f0e" stroke-width="0.9"/>
<ellipse cx="23.7" cy="-73.6" rx="8.4" ry="7.8" transform="rotate(0 23.7 -73.6)" fill="url(#kd)" stroke="#4a2f0e" stroke-width="0.9"/>
<ellipse cx="-45.6" cy="9.0" rx="8.6" ry="6.6" transform="rotate(74 -45.6 9.0)" fill="url(#kd)" stroke="#4a2f0e" stroke-width="0.9"/>
<ellipse cx="53.5" cy="-25.1" rx="8.2" ry="7.7" transform="rotate(67 53.5 -25.1)" fill="url(#kd)" stroke="#4a2f0e" stroke-width="0.9"/>
<ellipse cx="67.7" cy="-53.1" rx="8.1" ry="7.2" transform="rotate(17 67.7 -53.1)" fill="url(#kd)" stroke="#4a2f0e" stroke-width="0.9"/>
<ellipse cx="61.3" cy="57.4" rx="8.8" ry="6.7" transform="rotate(105 61.3 57.4)" fill="url(#kd)" stroke="#4a2f0e" stroke-width="0.9"/>
<ellipse cx="-79.6" cy="-36.3" rx="9.4" ry="7.6" transform="rotate(75 -79.6 -36.3)" fill="url(#kd)" stroke="#4a2f0e" stroke-width="0.9"/>
<ellipse cx="-31.5" cy="-63.1" rx="9.2" ry="7.3" transform="rotate(66 -31.5 -63.1)" fill="url(#kd)" stroke="#4a2f0e" stroke-width="0.9"/>
<ellipse cx="22.8" cy="66.5" rx="8.2" ry="7.2" transform="rotate(101 22.8 66.5)" fill="url(#kd)" stroke="#4a2f0e" stroke-width="0.9"/>
<ellipse cx="58.6" cy="71.7" rx="9.4" ry="7.9" transform="rotate(110 58.6 71.7)" fill="url(#kd)" stroke="#4a2f0e" stroke-width="0.9"/>
<ellipse cx="28.4" cy="-39.6" rx="8.5" ry="7.8" transform="rotate(0 28.4 -39.6)" fill="url(#kd)" stroke="#4a2f0e" stroke-width="0.9"/>
<ellipse cx="11.6" cy="-84.4" rx="8.2" ry="7.1" transform="rotate(111 11.6 -84.4)" fill="url(#kd)" stroke="#4a2f0e" stroke-width="0.9"/>
<ellipse cx="75.6" cy="-21.2" rx="8.2" ry="7.3" transform="rotate(160 75.6 -21.2)" fill="url(#kd)" stroke="#4a2f0e" stroke-width="0.9"/>
<ellipse cx="-57.9" cy="-43.2" rx="8.6" ry="6.9" transform="rotate(41 -57.9 -43.2)" fill="url(#kd)" stroke="#4a2f0e" stroke-width="0.9"/>
<ellipse cx="-30.0" cy="49.8" rx="8.4" ry="7.9" transform="rotate(68 -30.0 49.8)" fill="url(#kd)" stroke="#4a2f0e" stroke-width="0.9"/>
<ellipse cx="-52.7" cy="67.3" rx="9.4" ry="7.8" transform="rotate(107 -52.7 67.3)" fill="url(#kd)" stroke="#4a2f0e" stroke-width="0.9"/>
<ellipse cx="-88.9" cy="-24.7" rx="8.4" ry="8.0" transform="rotate(89 -88.9 -24.7)" fill="url(#kd)" stroke="#4a2f0e" stroke-width="0.9"/>
<ellipse cx="35.6" cy="54.2" rx="8.6" ry="6.6" transform="rotate(177 35.6 54.2)" fill="url(#kd)" stroke="#4a2f0e" stroke-width="0.9"/>
<ellipse cx="43.4" cy="-1.8" rx="8.7" ry="6.6" transform="rotate(86 43.4 -1.8)" fill="url(#kd)" stroke="#4a2f0e" stroke-width="0.9"/>
<ellipse cx="7.4" cy="-37.7" rx="8.2" ry="7.2" transform="rotate(80 7.4 -37.7)" fill="url(#kd)" stroke="#4a2f0e" stroke-width="0.9"/>
<ellipse cx="-16.3" cy="21.6" rx="8.4" ry="7.6" transform="rotate(149 -16.3 21.6)" fill="url(#kd)" stroke="#4a2f0e" stroke-width="0.9"/>
<ellipse cx="72.5" cy="23.0" rx="8.0" ry="7.1" transform="rotate(49 72.5 23.0)" fill="url(#kd)" stroke="#4a2f0e" stroke-width="0.9"/>
<ellipse cx="16.3" cy="-9.0" rx="9.4" ry="7.6" transform="rotate(44 16.3 -9.0)" fill="url(#kd)" stroke="#4a2f0e" stroke-width="0.9"/>
<ellipse cx="44.6" cy="36.6" rx="8.4" ry="6.3" transform="rotate(178 44.6 36.6)" fill="url(#kd)" stroke="#4a2f0e" stroke-width="0.9"/>
<ellipse cx="-13.6" cy="-75.2" rx="8.4" ry="7.2" transform="rotate(85 -13.6 -75.2)" fill="url(#kd)" stroke="#4a2f0e" stroke-width="0.9"/>
<ellipse cx="-28.6" cy="-15.7" rx="9.0" ry="7.2" transform="rotate(134 -28.6 -15.7)" fill="url(#kd)" stroke="#4a2f0e" stroke-width="0.9"/>
<ellipse cx="11.8" cy="90.2" rx="8.2" ry="7.5" transform="rotate(54 11.8 90.2)" fill="url(#kd)" stroke="#4a2f0e" stroke-width="0.9"/>
<ellipse cx="-66.9" cy="-53.9" rx="8.8" ry="6.7" transform="rotate(53 -66.9 -53.9)" fill="url(#kd)" stroke="#4a2f0e" stroke-width="0.9"/>
<ellipse cx="28.1" cy="82.8" rx="8.8" ry="6.9" transform="rotate(65 28.1 82.8)" fill="url(#kd)" stroke="#4a2f0e" stroke-width="0.9"/>
<ellipse cx="-62.8" cy="-18.3" rx="9.1" ry="7.2" transform="rotate(7 -62.8 -18.3)" fill="url(#kd)" stroke="#4a2f0e" stroke-width="0.9"/>
<ellipse cx="85.5" cy="-31.4" rx="8.4" ry="6.9" transform="rotate(165 85.5 -31.4)" fill="url(#kd)" stroke="#4a2f0e" stroke-width="0.9"/>
<ellipse cx="-1.0" cy="-53.4" rx="9.3" ry="7.1" transform="rotate(3 -1.0 -53.4)" fill="url(#kd)" stroke="#4a2f0e" stroke-width="0.9"/>
<ellipse cx="-42.2" cy="21.3" rx="9.2" ry="6.9" transform="rotate(104 -42.2 21.3)" fill="url(#kd)" stroke="#4a2f0e" stroke-width="0.9"/>
<ellipse cx="59.9" cy="14.5" rx="9.1" ry="7.3" transform="rotate(87 59.9 14.5)" fill="url(#kd)" stroke="#4a2f0e" stroke-width="0.9"/>
<ellipse cx="6.1" cy="8.3" rx="9.4" ry="6.8" transform="rotate(71 6.1 8.3)" fill="url(#kd)" stroke="#4a2f0e" stroke-width="0.9"/>
<ellipse cx="43.0" cy="-83.5" rx="9.3" ry="6.4" transform="rotate(53 43.0 -83.5)" fill="url(#kd)" stroke="#4a2f0e" stroke-width="0.9"/>
<ellipse cx="-6.9" cy="31.3" rx="9.2" ry="6.1" transform="rotate(151 -6.9 31.3)" fill="url(#kd)" stroke="#4a2f0e" stroke-width="0.9"/>
<ellipse cx="-18.7" cy="88.7" rx="9.0" ry="6.9" transform="rotate(52 -18.7 88.7)" fill="url(#kd)" stroke="#4a2f0e" stroke-width="0.9"/>
<ellipse cx="48.2" cy="-71.0" rx="9.2" ry="7.8" transform="rotate(26 48.2 -71.0)" fill="url(#kd)" stroke="#4a2f0e" stroke-width="0.9"/>
<ellipse cx="-54.9" cy="40.5" rx="8.7" ry="7.1" transform="rotate(90 -54.9 40.5)" fill="url(#kd)" stroke="#4a2f0e" stroke-width="0.9"/>
<ellipse cx="-21.0" cy="5.5" rx="8.5" ry="6.3" transform="rotate(105 -21.0 5.5)" fill="url(#kd)" stroke="#4a2f0e" stroke-width="0.9"/>
<ellipse cx="-72.1" cy="2.0" rx="9.2" ry="6.1" transform="rotate(41 -72.1 2.0)" fill="url(#kd)" stroke="#4a2f0e" stroke-width="0.9"/>
<ellipse cx="-42.6" cy="-71.9" rx="9.2" ry="7.6" transform="rotate(119 -42.6 -71.9)" fill="url(#kd)" stroke="#4a2f0e" stroke-width="0.9"/>
<ellipse cx="-32.8" cy="1.1" rx="8.0" ry="7.4" transform="rotate(176 -32.8 1.1)" fill="url(#kd)" stroke="#4a2f0e" stroke-width="0.9"/>
<ellipse cx="40.1" cy="22.8" rx="9.5" ry="7.4" transform="rotate(9 40.1 22.8)" fill="url(#kd)" stroke="#4a2f0e" stroke-width="0.9"/>
<ellipse cx="47.4" cy="-15.3" rx="9.3" ry="6.4" transform="rotate(116 47.4 -15.3)" fill="url(#kd)" stroke="#4a2f0e" stroke-width="0.9"/>
<ellipse cx="4.4" cy="-4.3" rx="9.4" ry="7.4" transform="rotate(24 4.4 -4.3)" fill="url(#kd)" stroke="#4a2f0e" stroke-width="0.9"/>
<ellipse cx="73.9" cy="55.4" rx="8.4" ry="7.8" transform="rotate(27 73.9 55.4)" fill="url(#kd)" stroke="#4a2f0e" stroke-width="0.9"/>
<ellipse cx="3.7" cy="55.7" rx="8.9" ry="6.8" transform="rotate(29 3.7 55.7)" fill="url(#kd)" stroke="#4a2f0e" stroke-width="0.9"/>
<ellipse cx="-29.4" cy="-76.0" rx="8.9" ry="6.1" transform="rotate(19 -29.4 -76.0)" fill="url(#kd)" stroke="#4a2f0e" stroke-width="0.9"/>
<ellipse cx="13.7" cy="-95.8" rx="8.6" ry="6.1" transform="rotate(10 13.7 -95.8)" fill="url(#kd)" stroke="#4a2f0e" stroke-width="0.9"/>
<ellipse cx="-64.2" cy="64.2" rx="8.9" ry="7.5" transform="rotate(158 -64.2 64.2)" fill="url(#kd)" stroke="#4a2f0e" stroke-width="0.9"/>
<ellipse cx="85.5" cy="34.4" rx="8.2" ry="6.9" transform="rotate(57 85.5 34.4)" fill="url(#kd)" stroke="#4a2f0e" stroke-width="0.9"/>
<ellipse cx="78.7" cy="-6.0" rx="8.9" ry="7.0" transform="rotate(169 78.7 -6.0)" fill="url(#kd)" stroke="#4a2f0e" stroke-width="0.9"/>
<ellipse cx="-27.8" cy="62.3" rx="8.6" ry="6.1" transform="rotate(126 -27.8 62.3)" fill="url(#kd)" stroke="#4a2f0e" stroke-width="0.9"/>
<ellipse cx="31.5" cy="-8.4" rx="8.2" ry="7.3" transform="rotate(91 31.5 -8.4)" fill="url(#kd)" stroke="#4a2f0e" stroke-width="0.9"/>
<ellipse cx="63.4" cy="-31.1" rx="9.4" ry="7.1" transform="rotate(112 63.4 -31.1)" fill="url(#kd)" stroke="#4a2f0e" stroke-width="0.9"/>
<ellipse cx="-50.5" cy="-82.8" rx="8.4" ry="7.1" transform="rotate(46 -50.5 -82.8)" fill="url(#kd)" stroke="#4a2f0e" stroke-width="0.9"/>
<ellipse cx="49.3" cy="59.9" rx="9.1" ry="7.0" transform="rotate(24 49.3 59.9)" fill="url(#kd)" stroke="#4a2f0e" stroke-width="0.9"/>
<ellipse cx="-51.0" cy="-16.1" rx="8.4" ry="6.7" transform="rotate(133 -51.0 -16.1)" fill="url(#kd)" stroke="#4a2f0e" stroke-width="0.9"/>
<ellipse cx="-69.9" cy="-65.9" rx="8.3" ry="7.4" transform="rotate(118 -69.9 -65.9)" fill="url(#kd)" stroke="#4a2f0e" stroke-width="0.9"/>
<ellipse cx="52.4" cy="-59.7" rx="8.1" ry="7.3" transform="rotate(16 52.4 -59.7)" fill="url(#kd)" stroke="#4a2f0e" stroke-width="0.9"/>
<ellipse cx="33.6" cy="42.9" rx="8.2" ry="7.2" transform="rotate(43 33.6 42.9)" fill="url(#kd)" stroke="#4a2f0e" stroke-width="0.9"/>
<ellipse cx="54.4" cy="3.3" rx="9.3" ry="7.0" transform="rotate(58 54.4 3.3)" fill="url(#kd)" stroke="#4a2f0e" stroke-width="0.9"/>
<ellipse cx="-37.0" cy="-51.3" rx="9.2" ry="6.1" transform="rotate(131 -37.0 -51.3)" fill="url(#kd)" stroke="#4a2f0e" stroke-width="0.9"/>
<ellipse cx="94.5" cy="-5.9" rx="8.1" ry="6.3" transform="rotate(171 94.5 -5.9)" fill="url(#kd)" stroke="#4a2f0e" stroke-width="0.9"/>
<ellipse cx="-57.6" cy="-31.0" rx="9.0" ry="6.4" transform="rotate(21 -57.6 -31.0)" fill="url(#kd)" stroke="#4a2f0e" stroke-width="0.9"/>
<ellipse cx="-48.6" cy="78.5" rx="9.5" ry="7.3" transform="rotate(148 -48.6 78.5)" fill="url(#kd)" stroke="#4a2f0e" stroke-width="0.9"/>
<ellipse cx="15.7" cy="75.8" rx="8.2" ry="7.2" transform="rotate(64 15.7 75.8)" fill="url(#kd)" stroke="#4a2f0e" stroke-width="0.9"/>
<ellipse cx="-1.9" cy="-65.0" rx="8.4" ry="6.7" transform="rotate(110 -1.9 -65.0)" fill="url(#kd)" stroke="#4a2f0e" stroke-width="0.9"/>
<ellipse cx="-10.6" cy="78.0" rx="8.5" ry="6.8" transform="rotate(25 -10.6 78.0)" fill="url(#kd)" stroke="#4a2f0e" stroke-width="0.9"/>
<ellipse cx="36.7" cy="-70.1" rx="9.2" ry="7.3" transform="rotate(145 36.7 -70.1)" fill="url(#kd)" stroke="#4a2f0e" stroke-width="0.9"/>
<ellipse cx="-2.8" cy="20.1" rx="6.0" ry="4.2" transform="rotate(90 -3.5 18.5)" fill="#1f1002" opacity="0.8"/>
<ellipse cx="-3.5" cy="18.5" rx="5.5" ry="3.7" transform="rotate(90 -3.5 18.5)" fill="url(#ko)" stroke="#644010" stroke-width="0.9"/>
<ellipse cx="-34.3" cy="65.6" rx="5.5" ry="5.5" transform="rotate(0 -35.0 64.0)" fill="#1f1002" opacity="0.8"/>
<ellipse cx="-35.0" cy="64.0" rx="5.0" ry="5.0" transform="rotate(0 -35.0 64.0)" fill="url(#ko)" stroke="#644010" stroke-width="0.9"/>
<ellipse cx="52.5" cy="-75.6" rx="6.0" ry="6.0" transform="rotate(0 51.8 -77.2)" fill="#1f1002" opacity="0.8"/>
<ellipse cx="51.8" cy="-77.2" rx="5.5" ry="5.5" transform="rotate(0 51.8 -77.2)" fill="url(#ko)" stroke="#644010" stroke-width="0.9"/>
<ellipse cx="-19.1" cy="53.5" rx="6.0" ry="6.0" transform="rotate(0 -19.8 51.9)" fill="#1f1002" opacity="0.8"/>
<ellipse cx="-19.8" cy="51.9" rx="5.5" ry="5.5" transform="rotate(0 -19.8 51.9)" fill="url(#ko)" stroke="#644010" stroke-width="0.9"/>
<ellipse cx="-42.5" cy="60.2" rx="7.5" ry="6.0" transform="rotate(0 -43.2 58.6)" fill="#1f1002" opacity="0.8"/>
<ellipse cx="-43.2" cy="58.6" rx="7.0" ry="5.5" transform="rotate(0 -43.2 58.6)" fill="url(#km)" stroke="#765016" stroke-width="0.9"/>
<ellipse cx="-55.3" cy="-32.4" rx="6.7" ry="6.7" transform="rotate(0 -56.0 -34.0)" fill="#1f1002" opacity="0.8"/>
<ellipse cx="-56.0" cy="-34.0" rx="6.2" ry="6.2" transform="rotate(0 -56.0 -34.0)" fill="url(#km)" stroke="#765016" stroke-width="0.9"/>
<ellipse cx="46.2" cy="-2.1" rx="6.7" ry="6.7" transform="rotate(0 45.5 -3.7)" fill="#1f1002" opacity="0.8"/>
<ellipse cx="45.5" cy="-3.7" rx="6.2" ry="6.2" transform="rotate(0 45.5 -3.7)" fill="url(#ko)" stroke="#644010" stroke-width="0.9"/>
<ellipse cx="34.5" cy="38.8" rx="6.7" ry="6.7" transform="rotate(0 33.8 37.2)" fill="#1f1002" opacity="0.8"/>
<ellipse cx="33.8" cy="37.2" rx="6.2" ry="6.2" transform="rotate(0 33.8 37.2)" fill="url(#ko)" stroke="#644010" stroke-width="0.9"/>
<ellipse cx="-50.6" cy="69.1" rx="6.7" ry="6.7" transform="rotate(0 -51.3 67.5)" fill="#1f1002" opacity="0.8"/>
<ellipse cx="-51.3" cy="67.5" rx="6.2" ry="6.2" transform="rotate(0 -51.3 67.5)" fill="url(#ko)" stroke="#644010" stroke-width="0.9"/>
<ellipse cx="0.2" cy="-12.6" rx="8.7" ry="5.5" transform="rotate(75 -0.5 -14.2)" fill="#1f1002" opacity="0.8"/>
<ellipse cx="-0.5" cy="-14.2" rx="8.2" ry="5.0" transform="rotate(75 -0.5 -14.2)" fill="url(#ko)" stroke="#644010" stroke-width="0.9"/>
<ellipse cx="-16.8" cy="-55.0" rx="6.5" ry="7.5" transform="rotate(0 -17.5 -56.6)" fill="#1f1002" opacity="0.8"/>
<ellipse cx="-17.5" cy="-56.6" rx="6.0" ry="7.0" transform="rotate(0 -17.5 -56.6)" fill="url(#ko)" stroke="#644010" stroke-width="0.9"/>
<ellipse cx="-20.3" cy="-90.0" rx="7.5" ry="6.7" transform="rotate(0 -21.0 -91.6)" fill="#1f1002" opacity="0.8"/>
<ellipse cx="-21.0" cy="-91.6" rx="7.0" ry="6.2" transform="rotate(0 -21.0 -91.6)" fill="url(#km)" stroke="#765016" stroke-width="0.9"/>
<ellipse cx="27.8" cy="-86.8" rx="8.0" ry="6.7" transform="rotate(0 27.1 -88.4)" fill="#1f1002" opacity="0.8"/>
<ellipse cx="27.1" cy="-88.4" rx="7.5" ry="6.2" transform="rotate(0 27.1 -88.4)" fill="url(#ko)" stroke="#644010" stroke-width="0.9"/>
<ellipse cx="-41.3" cy="44.1" rx="8.0" ry="6.7" transform="rotate(90 -42.0 42.5)" fill="#1f1002" opacity="0.8"/>
<ellipse cx="-42.0" cy="42.5" rx="7.5" ry="6.2" transform="rotate(90 -42.0 42.5)" fill="url(#km)" stroke="#765016" stroke-width="0.9"/>
<ellipse cx="49.0" cy="74.9" rx="8.0" ry="6.7" transform="rotate(90 48.3 73.3)" fill="#1f1002" opacity="0.8"/>
<ellipse cx="48.3" cy="73.3" rx="7.5" ry="6.2" transform="rotate(90 48.3 73.3)" fill="url(#km)" stroke="#765016" stroke-width="0.9"/>
<ellipse cx="90.5" cy="14.3" rx="9.2" ry="6.0" transform="rotate(-10 89.8 12.7)" fill="#1f1002" opacity="0.8"/>
<ellipse cx="89.8" cy="12.7" rx="8.7" ry="5.5" transform="rotate(-10 89.8 12.7)" fill="url(#km)" stroke="#765016" stroke-width="0.9"/>
<ellipse cx="-6.8" cy="-3.2" rx="8.5" ry="6.7" transform="rotate(70 -7.5 -4.8)" fill="#1f1002" opacity="0.8"/>
<ellipse cx="-7.5" cy="-4.8" rx="8.0" ry="6.2" transform="rotate(70 -7.5 -4.8)" fill="url(#km)" stroke="#765016" stroke-width="0.9"/>
<ellipse cx="42.7" cy="-17.2" rx="10.0" ry="6.0" transform="rotate(80 42.0 -18.8)" fill="#1f1002" opacity="0.8"/>
<ellipse cx="42.0" cy="-18.8" rx="9.5" ry="5.5" transform="rotate(80 42.0 -18.8)" fill="url(#km)" stroke="#765016" stroke-width="0.9"/>
<ellipse cx="91.2" cy="-19.1" rx="10.0" ry="6.7" transform="rotate(90 90.5 -20.7)" fill="#1f1002" opacity="0.8"/>
<ellipse cx="90.5" cy="-20.7" rx="9.5" ry="6.2" transform="rotate(90 90.5 -20.7)" fill="url(#km)" stroke="#765016" stroke-width="0.9"/>
<ellipse cx="-9.8" cy="-89.1" rx="9.2" ry="7.5" transform="rotate(-20 -10.5 -90.7)" fill="#1f1002" opacity="0.8"/>
<ellipse cx="-10.5" cy="-90.7" rx="8.7" ry="7.0" transform="rotate(-20 -10.5 -90.7)" fill="url(#km)" stroke="#765016" stroke-width="0.9"/>
<ellipse cx="-78.6" cy="-47.6" rx="9.2" ry="7.5" transform="rotate(70 -79.3 -49.2)" fill="#1f1002" opacity="0.8"/>
<ellipse cx="-79.3" cy="-49.2" rx="8.7" ry="7.0" transform="rotate(70 -79.3 -49.2)" fill="url(#ko)" stroke="#644010" stroke-width="0.9"/>
<ellipse cx="22.9" cy="-38.2" rx="9.2" ry="7.5" transform="rotate(0 22.2 -39.8)" fill="#1f1002" opacity="0.8"/>
<ellipse cx="22.2" cy="-39.8" rx="8.7" ry="7.0" transform="rotate(0 22.2 -39.8)" fill="url(#km)" stroke="#765016" stroke-width="0.9"/>
<ellipse cx="50.2" cy="-36.4" rx="9.2" ry="7.5" transform="rotate(90 49.5 -38.0)" fill="#1f1002" opacity="0.8"/>
<ellipse cx="49.5" cy="-38.0" rx="8.7" ry="7.0" transform="rotate(90 49.5 -38.0)" fill="url(#km)" stroke="#765016" stroke-width="0.9"/>
<ellipse cx="-50.2" cy="-44.8" rx="11.0" ry="6.5" transform="rotate(75 -50.9 -46.4)" fill="#1f1002" opacity="0.8"/>
<ellipse cx="-50.9" cy="-46.4" rx="10.5" ry="6.0" transform="rotate(75 -50.9 -46.4)" fill="url(#km)" stroke="#765016" stroke-width="0.9"/>
<ellipse cx="-40.1" cy="29.4" rx="10.0" ry="7.2" transform="rotate(80 -40.8 27.8)" fill="#1f1002" opacity="0.8"/>
<ellipse cx="-40.8" cy="27.8" rx="9.5" ry="6.7" transform="rotate(80 -40.8 27.8)" fill="url(#km)" stroke="#765016" stroke-width="0.9"/>
<ellipse cx="40.8" cy="78.4" rx="9.2" ry="8.0" transform="rotate(60 40.1 76.8)" fill="#1f1002" opacity="0.8"/>
<ellipse cx="40.1" cy="76.8" rx="8.7" ry="7.5" transform="rotate(60 40.1 76.8)" fill="url(#km)" stroke="#765016" stroke-width="0.9"/>
<ellipse cx="-63.5" cy="15.4" rx="11.0" ry="6.7" transform="rotate(-10 -64.2 13.8)" fill="#1f1002" opacity="0.8"/>
<ellipse cx="-64.2" cy="13.8" rx="10.5" ry="6.2" transform="rotate(-10 -64.2 13.8)" fill="url(#km)" stroke="#765016" stroke-width="0.9"/>
<ellipse cx="-0.5" cy="8.4" rx="11.0" ry="6.7" transform="rotate(-10 -1.2 6.8)" fill="#1f1002" opacity="0.8"/>
<ellipse cx="-1.2" cy="6.8" rx="10.5" ry="6.2" transform="rotate(-10 -1.2 6.8)" fill="url(#km)" stroke="#765016" stroke-width="0.9"/>
<ellipse cx="81.7" cy="-46.9" rx="10.0" ry="7.5" transform="rotate(40 81.0 -48.5)" fill="#1f1002" opacity="0.8"/>
<ellipse cx="81.0" cy="-48.5" rx="9.5" ry="7.0" transform="rotate(40 81.0 -48.5)" fill="url(#km)" stroke="#765016" stroke-width="0.9"/>
<ellipse cx="25.2" cy="30.1" rx="10.5" ry="7.2" transform="rotate(10 24.5 28.5)" fill="#1f1002" opacity="0.8"/>
<ellipse cx="24.5" cy="28.5" rx="10.0" ry="6.7" transform="rotate(10 24.5 28.5)" fill="url(#km)" stroke="#765016" stroke-width="0.9"/>
<ellipse cx="32.2" cy="-15.6" rx="8.5" ry="9.2" transform="rotate(0 31.5 -17.2)" fill="#1f1002" opacity="0.8"/>
<ellipse cx="31.5" cy="-17.2" rx="8.0" ry="8.7" transform="rotate(0 31.5 -17.2)" fill="url(#km)" stroke="#765016" stroke-width="0.9"/>
<ellipse cx="-14.5" cy="-14.4" rx="10.5" ry="7.5" transform="rotate(-20 -15.2 -16.0)" fill="#1f1002" opacity="0.8"/>
<ellipse cx="-15.2" cy="-16.0" rx="10.0" ry="7.0" transform="rotate(-20 -15.2 -16.0)" fill="url(#km)" stroke="#765016" stroke-width="0.9"/>
<ellipse cx="75.4" cy="46.9" rx="11.7" ry="6.7" transform="rotate(15 74.7 45.3)" fill="#1f1002" opacity="0.8"/>
<ellipse cx="74.7" cy="45.3" rx="11.2" ry="6.2" transform="rotate(15 74.7 45.3)" fill="url(#km)" stroke="#765016" stroke-width="0.9"/>
<ellipse cx="-25.0" cy="-42.9" rx="10.0" ry="8.0" transform="rotate(0 -25.7 -44.5)" fill="#1f1002" opacity="0.8"/>
<ellipse cx="-25.7" cy="-44.5" rx="9.5" ry="7.5" transform="rotate(0 -25.7 -44.5)" fill="url(#km)" stroke="#765016" stroke-width="0.9"/>
<ellipse cx="-31.3" cy="51.6" rx="10.0" ry="8.0" transform="rotate(90 -32.0 50.0)" fill="#1f1002" opacity="0.8"/>
<ellipse cx="-32.0" cy="50.0" rx="9.5" ry="7.5" transform="rotate(90 -32.0 50.0)" fill="url(#km)" stroke="#765016" stroke-width="0.9"/>
<ellipse cx="-63.5" cy="-45.7" rx="9.5" ry="8.5" transform="rotate(-15 -64.2 -47.3)" fill="#1f1002" opacity="0.8"/>
<ellipse cx="-64.2" cy="-47.3" rx="9.0" ry="8.0" transform="rotate(-15 -64.2 -47.3)" fill="url(#km)" stroke="#765016" stroke-width="0.9"/>
<ellipse cx="36.4" cy="20.8" rx="11.2" ry="7.2" transform="rotate(0 35.7 19.2)" fill="#1f1002" opacity="0.8"/>
<ellipse cx="35.7" cy="19.2" rx="10.7" ry="6.7" transform="rotate(0 35.7 19.2)" fill="url(#km)" stroke="#765016" stroke-width="0.9"/>
<ellipse cx="-48.3" cy="-63.9" rx="11.0" ry="7.5" transform="rotate(-25 -49.0 -65.5)" fill="#1f1002" opacity="0.8"/>
<ellipse cx="-49.0" cy="-65.5" rx="10.5" ry="7.0" transform="rotate(-25 -49.0 -65.5)" fill="url(#km)" stroke="#765016" stroke-width="0.9"/>
<ellipse cx="-40.8" cy="-51.1" rx="11.0" ry="7.5" transform="rotate(80 -41.5 -52.7)" fill="#1f1002" opacity="0.8"/>
<ellipse cx="-41.5" cy="-52.7" rx="10.5" ry="7.0" transform="rotate(80 -41.5 -52.7)" fill="url(#km)" stroke="#765016" stroke-width="0.9"/>
<ellipse cx="18.2" cy="43.4" rx="11.0" ry="7.5" transform="rotate(-15 17.5 41.8)" fill="#1f1002" opacity="0.8"/>
<ellipse cx="17.5" cy="41.8" rx="10.5" ry="7.0" transform="rotate(-15 17.5 41.8)" fill="url(#km)" stroke="#765016" stroke-width="0.9"/>
<ellipse cx="71.2" cy="55.8" rx="11.0" ry="7.5" transform="rotate(20 70.5 54.2)" fill="#1f1002" opacity="0.8"/>
<ellipse cx="70.5" cy="54.2" rx="10.5" ry="7.0" transform="rotate(20 70.5 54.2)" fill="url(#km)" stroke="#765016" stroke-width="0.9"/>
<ellipse cx="-47.1" cy="16.6" rx="10.5" ry="8.0" transform="rotate(-35 -47.8 15.0)" fill="#1f1002" opacity="0.8"/>
<ellipse cx="-47.8" cy="15.0" rx="10.0" ry="7.5" transform="rotate(-35 -47.8 15.0)" fill="url(#km)" stroke="#765016" stroke-width="0.9"/>
<ellipse cx="38.0" cy="-49.9" rx="10.0" ry="8.5" transform="rotate(0 37.3 -51.5)" fill="#1f1002" opacity="0.8"/>
<ellipse cx="37.3" cy="-51.5" rx="9.5" ry="8.0" transform="rotate(0 37.3 -51.5)" fill="url(#km)" stroke="#765016" stroke-width="0.9"/>
<ellipse cx="78.4" cy="-19.6" rx="10.0" ry="8.5" transform="rotate(10 77.7 -21.2)" fill="#1f1002" opacity="0.8"/>
<ellipse cx="77.7" cy="-21.2" rx="9.5" ry="8.0" transform="rotate(10 77.7 -21.2)" fill="url(#km)" stroke="#765016" stroke-width="0.9"/>
<ellipse cx="-3.5" cy="-56.9" rx="10.0" ry="8.7" transform="rotate(-10 -4.2 -58.5)" fill="#1f1002" opacity="0.8"/>
<ellipse cx="-4.2" cy="-58.5" rx="9.5" ry="8.2" transform="rotate(-10 -4.2 -58.5)" fill="url(#km)" stroke="#765016" stroke-width="0.9"/>
<ellipse cx="-53.4" cy="-75.6" rx="11.0" ry="8.0" transform="rotate(-45 -54.1 -77.2)" fill="#1f1002" opacity="0.8"/>
<ellipse cx="-54.1" cy="-77.2" rx="10.5" ry="7.5" transform="rotate(-45 -54.1 -77.2)" fill="url(#km)" stroke="#765016" stroke-width="0.9"/>
<ellipse cx="-29.6" cy="-58.1" rx="11.0" ry="8.0" transform="rotate(40 -30.3 -59.7)" fill="#1f1002" opacity="0.8"/>
<ellipse cx="-30.3" cy="-59.7" rx="10.5" ry="7.5" transform="rotate(40 -30.3 -59.7)" fill="url(#km)" stroke="#765016" stroke-width="0.9"/>
<ellipse cx="-75.1" cy="-9.1" rx="11.0" ry="8.0" transform="rotate(-35 -75.8 -10.7)" fill="#1f1002" opacity="0.8"/>
<ellipse cx="-75.8" cy="-10.7" rx="10.5" ry="7.5" transform="rotate(-35 -75.8 -10.7)" fill="url(#ko)" stroke="#644010" stroke-width="0.9"/>
<ellipse cx="15.9" cy="-10.2" rx="11.0" ry="8.0" transform="rotate(20 15.2 -11.8)" fill="#1f1002" opacity="0.8"/>
<ellipse cx="15.2" cy="-11.8" rx="10.5" ry="7.5" transform="rotate(20 15.2 -11.8)" fill="url(#km)" stroke="#765016" stroke-width="0.9"/>
<ellipse cx="90.5" cy="26.6" rx="11.0" ry="8.0" transform="rotate(0 89.8 25.0)" fill="#1f1002" opacity="0.8"/>
<ellipse cx="89.8" cy="25.0" rx="10.5" ry="7.5" transform="rotate(0 89.8 25.0)" fill="url(#km)" stroke="#765016" stroke-width="0.9"/>
<ellipse cx="-5.8" cy="65.6" rx="11.0" ry="8.0" transform="rotate(100 -6.5 64.0)" fill="#1f1002" opacity="0.8"/>
<ellipse cx="-6.5" cy="64.0" rx="10.5" ry="7.5" transform="rotate(100 -6.5 64.0)" fill="url(#ko)" stroke="#644010" stroke-width="0.9"/>
<ellipse cx="-9.8" cy="45.1" rx="9.7" ry="9.2" transform="rotate(0 -10.5 43.5)" fill="#1f1002" opacity="0.8"/>
<ellipse cx="-10.5" cy="43.5" rx="9.2" ry="8.7" transform="rotate(0 -10.5 43.5)" fill="url(#km)" stroke="#765016" stroke-width="0.9"/>
<ellipse cx="71.9" cy="-5.1" rx="10.5" ry="8.7" transform="rotate(80 71.2 -6.7)" fill="#1f1002" opacity="0.8"/>
<ellipse cx="71.2" cy="-6.7" rx="10.0" ry="8.2" transform="rotate(80 71.2 -6.7)" fill="url(#km)" stroke="#765016" stroke-width="0.9"/>
<ellipse cx="-40.8" cy="1.4" rx="10.5" ry="8.7" transform="rotate(20 -41.5 -0.2)" fill="#1f1002" opacity="0.8"/>
<ellipse cx="-41.5" cy="-0.2" rx="10.0" ry="8.2" transform="rotate(20 -41.5 -0.2)" fill="url(#km)" stroke="#765016" stroke-width="0.9"/>
<ellipse cx="61.8" cy="-46.9" rx="12.5" ry="7.5" transform="rotate(5 61.1 -48.5)" fill="#1f1002" opacity="0.8"/>
<ellipse cx="61.1" cy="-48.5" rx="12.0" ry="7.0" transform="rotate(5 61.1 -48.5)" fill="url(#kl)" stroke="#80581c" stroke-width="0.9"/>
<ellipse cx="-68.1" cy="-27.7" rx="11.0" ry="8.5" transform="rotate(100 -68.8 -29.3)" fill="#1f1002" opacity="0.8"/>
<ellipse cx="-68.8" cy="-29.3" rx="10.5" ry="8.0" transform="rotate(100 -68.8 -29.3)" fill="url(#km)" stroke="#765016" stroke-width="0.9"/>
<ellipse cx="60.7" cy="-24.7" rx="11.0" ry="8.5" transform="rotate(60 60.0 -26.3)" fill="#1f1002" opacity="0.8"/>
<ellipse cx="60.0" cy="-26.3" rx="10.5" ry="8.0" transform="rotate(60 60.0 -26.3)" fill="url(#km)" stroke="#765016" stroke-width="0.9"/>
<ellipse cx="-85.2" cy="8.9" rx="11.0" ry="8.5" transform="rotate(-10 -85.9 7.3)" fill="#1f1002" opacity="0.8"/>
<ellipse cx="-85.9" cy="7.3" rx="10.5" ry="8.0" transform="rotate(-10 -85.9 7.3)" fill="url(#km)" stroke="#765016" stroke-width="0.9"/>
<ellipse cx="-26.8" cy="39.2" rx="11.7" ry="8.0" transform="rotate(65 -27.5 37.6)" fill="#1f1002" opacity="0.8"/>
<ellipse cx="-27.5" cy="37.6" rx="11.2" ry="7.5" transform="rotate(65 -27.5 37.6)" fill="url(#km)" stroke="#765016" stroke-width="0.9"/>
<ellipse cx="63.2" cy="69.8" rx="11.7" ry="8.0" transform="rotate(120 62.5 68.2)" fill="#1f1002" opacity="0.8"/>
<ellipse cx="62.5" cy="68.2" rx="11.2" ry="7.5" transform="rotate(120 62.5 68.2)" fill="url(#km)" stroke="#765016" stroke-width="0.9"/>
<ellipse cx="-40.8" cy="-31.2" rx="10.5" ry="9.0" transform="rotate(110 -41.5 -32.8)" fill="#1f1002" opacity="0.8"/>
<ellipse cx="-41.5" cy="-32.8" rx="10.0" ry="8.5" transform="rotate(110 -41.5 -32.8)" fill="url(#km)" stroke="#765016" stroke-width="0.9"/>
<ellipse cx="12.4" cy="17.3" rx="12.0" ry="8.0" transform="rotate(-5 11.7 15.7)" fill="#1f1002" opacity="0.8"/>
<ellipse cx="11.7" cy="15.7" rx="11.5" ry="7.5" transform="rotate(-5 11.7 15.7)" fill="url(#km)" stroke="#765016" stroke-width="0.9"/>
<ellipse cx="8.4" cy="-91.4" rx="11.0" ry="8.7" transform="rotate(10 7.7 -93.0)" fill="#1f1002" opacity="0.8"/>
<ellipse cx="7.7" cy="-93.0" rx="10.5" ry="8.2" transform="rotate(10 7.7 -93.0)" fill="url(#kl)" stroke="#80581c" stroke-width="0.9"/>
<ellipse cx="39.9" cy="-65.8" rx="11.0" ry="8.7" transform="rotate(-20 39.2 -67.4)" fill="#1f1002" opacity="0.8"/>
<ellipse cx="39.2" cy="-67.4" rx="10.5" ry="8.2" transform="rotate(-20 39.2 -67.4)" fill="url(#km)" stroke="#765016" stroke-width="0.9"/>
<ellipse cx="74.2" cy="14.3" rx="11.0" ry="8.7" transform="rotate(105 73.5 12.7)" fill="#1f1002" opacity="0.8"/>
<ellipse cx="73.5" cy="12.7" rx="10.5" ry="8.2" transform="rotate(105 73.5 12.7)" fill="url(#km)" stroke="#765016" stroke-width="0.9"/>
<ellipse cx="-19.8" cy="88.2" rx="11.0" ry="8.7" transform="rotate(0 -20.5 86.6)" fill="#1f1002" opacity="0.8"/>
<ellipse cx="-20.5" cy="86.6" rx="10.5" ry="8.2" transform="rotate(0 -20.5 86.6)" fill="url(#km)" stroke="#765016" stroke-width="0.9"/>
<ellipse cx="-28.5" cy="-25.4" rx="10.5" ry="9.2" transform="rotate(90 -29.2 -27.0)" fill="#1f1002" opacity="0.8"/>
<ellipse cx="-29.2" cy="-27.0" rx="10.0" ry="8.7" transform="rotate(90 -29.2 -27.0)" fill="url(#km)" stroke="#765016" stroke-width="0.9"/>
<ellipse cx="55.5" cy="-10.9" rx="10.5" ry="9.2" transform="rotate(90 54.8 -12.5)" fill="#1f1002" opacity="0.8"/>
<ellipse cx="54.8" cy="-12.5" rx="10.0" ry="8.7" transform="rotate(90 54.8 -12.5)" fill="url(#km)" stroke="#765016" stroke-width="0.9"/>
<ellipse cx="-71.6" cy="28.7" rx="10.0" ry="9.7" transform="rotate(0 -72.3 27.1)" fill="#1f1002" opacity="0.8"/>
<ellipse cx="-72.3" cy="27.1" rx="9.5" ry="9.2" transform="rotate(0 -72.3 27.1)" fill="url(#km)" stroke="#765016" stroke-width="0.9"/>
<ellipse cx="39.2" cy="-80.2" rx="10.5" ry="9.5" transform="rotate(-10 38.5 -81.8)" fill="#1f1002" opacity="0.8"/>
<ellipse cx="38.5" cy="-81.8" rx="10.0" ry="9.0" transform="rotate(-10 38.5 -81.8)" fill="url(#km)" stroke="#765016" stroke-width="0.9"/>
<ellipse cx="5.4" cy="-28.9" rx="11.7" ry="8.5" transform="rotate(100 4.7 -30.5)" fill="#1f1002" opacity="0.8"/>
<ellipse cx="4.7" cy="-30.5" rx="11.2" ry="8.0" transform="rotate(100 4.7 -30.5)" fill="url(#km)" stroke="#765016" stroke-width="0.9"/>
<ellipse cx="-33.8" cy="-10.9" rx="10.5" ry="9.5" transform="rotate(10 -34.5 -12.5)" fill="#1f1002" opacity="0.8"/>
<ellipse cx="-34.5" cy="-12.5" rx="10.0" ry="9.0" transform="rotate(10 -34.5 -12.5)" fill="url(#km)" stroke="#765016" stroke-width="0.9"/>
<ellipse cx="-67.0" cy="-59.2" rx="10.0" ry="10.0" transform="rotate(0 -67.7 -60.8)" fill="#1f1002" opacity="0.8"/>
<ellipse cx="-67.7" cy="-60.8" rx="9.5" ry="9.5" transform="rotate(0 -67.7 -60.8)" fill="url(#ko)" stroke="#644010" stroke-width="0.9"/>
<ellipse cx="-55.3" cy="33.4" rx="11.5" ry="8.7" transform="rotate(10 -56.0 31.8)" fill="#1f1002" opacity="0.8"/>
<ellipse cx="-56.0" cy="31.8" rx="11.0" ry="8.2" transform="rotate(10 -56.0 31.8)" fill="url(#km)" stroke="#765016" stroke-width="0.9"/>
<ellipse cx="21.2" cy="-74.4" rx="11.0" ry="9.2" transform="rotate(20 20.5 -76.0)" fill="#1f1002" opacity="0.8"/>
<ellipse cx="20.5" cy="-76.0" rx="10.5" ry="8.7" transform="rotate(20 20.5 -76.0)" fill="url(#km)" stroke="#765016" stroke-width="0.9"/>
<ellipse cx="-36.2" cy="-82.1" rx="9.7" ry="10.5" transform="rotate(0 -36.9 -83.7)" fill="#1f1002" opacity="0.8"/>
<ellipse cx="-36.9" cy="-83.7" rx="9.2" ry="10.0" transform="rotate(0 -36.9 -83.7)" fill="url(#ko)" stroke="#644010" stroke-width="0.9"/>
<ellipse cx="0.7" cy="-45.7" rx="11.7" ry="8.7" transform="rotate(-10 0.0 -47.3)" fill="#1f1002" opacity="0.8"/>
<ellipse cx="0.0" cy="-47.3" rx="11.2" ry="8.2" transform="rotate(-10 0.0 -47.3)" fill="url(#km)" stroke="#765016" stroke-width="0.9"/>
<ellipse cx="36.4" cy="-34.7" rx="11.7" ry="8.7" transform="rotate(90 35.7 -36.3)" fill="#1f1002" opacity="0.8"/>
<ellipse cx="35.7" cy="-36.3" rx="11.2" ry="8.2" transform="rotate(90 35.7 -36.3)" fill="url(#km)" stroke="#765016" stroke-width="0.9"/>
<ellipse cx="20.1" cy="88.9" rx="11.7" ry="8.7" transform="rotate(10 19.4 87.3)" fill="#1f1002" opacity="0.8"/>
<ellipse cx="19.4" cy="87.3" rx="11.2" ry="8.2" transform="rotate(10 19.4 87.3)" fill="url(#km)" stroke="#765016" stroke-width="0.9"/>
<ellipse cx="15.9" cy="1.9" rx="11.2" ry="9.2" transform="rotate(10 15.2 0.3)" fill="#1f1002" opacity="0.8"/>
<ellipse cx="15.2" cy="0.3" rx="10.7" ry="8.7" transform="rotate(10 15.2 0.3)" fill="url(#km)" stroke="#765016" stroke-width="0.9"/>
<ellipse cx="26.4" cy="74.5" rx="11.7" ry="9.2" transform="rotate(-5 25.7 72.9)" fill="#1f1002" opacity="0.8"/>
<ellipse cx="25.7" cy="72.9" rx="11.2" ry="8.7" transform="rotate(-5 25.7 72.9)" fill="url(#km)" stroke="#765016" stroke-width="0.9"/>
<ellipse cx="-87.5" cy="27.1" rx="11.2" ry="9.7" transform="rotate(90 -88.2 25.5)" fill="#1f1002" opacity="0.8"/>
<ellipse cx="-88.2" cy="25.5" rx="10.7" ry="9.2" transform="rotate(90 -88.2 25.5)" fill="url(#km)" stroke="#765016" stroke-width="0.9"/>
<ellipse cx="9.3" cy="55.6" rx="11.0" ry="10.0" transform="rotate(10 8.6 54.0)" fill="#1f1002" opacity="0.8"/>
<ellipse cx="8.6" cy="54.0" rx="10.5" ry="9.5" transform="rotate(10 8.6 54.0)" fill="url(#ko)" stroke="#644010" stroke-width="0.9"/>
<ellipse cx="-65.3" cy="62.1" rx="11.0" ry="10.0" transform="rotate(20 -66.0 60.5)" fill="#1f1002" opacity="0.8"/>
<ellipse cx="-66.0" cy="60.5" rx="10.5" ry="9.5" transform="rotate(20 -66.0 60.5)" fill="url(#ko)" stroke="#644010" stroke-width="0.9"/>
<ellipse cx="-0.5" cy="90.1" rx="11.0" ry="10.0" transform="rotate(0 -1.2 88.5)" fill="#1f1002" opacity="0.8"/>
<ellipse cx="-1.2" cy="88.5" rx="10.5" ry="9.5" transform="rotate(0 -1.2 88.5)" fill="url(#km)" stroke="#765016" stroke-width="0.9"/>
<ellipse cx="29.2" cy="53.5" rx="10.5" ry="10.5" transform="rotate(0 28.5 51.9)" fill="#1f1002" opacity="0.8"/>
<ellipse cx="28.5" cy="51.9" rx="10.0" ry="10.0" transform="rotate(0 28.5 51.9)" fill="url(#km)" stroke="#765016" stroke-width="0.9"/>
<ellipse cx="51.3" cy="61.6" rx="11.2" ry="10.0" transform="rotate(-10 50.6 60.0)" fill="#1f1002" opacity="0.8"/>
<ellipse cx="50.6" cy="60.0" rx="10.7" ry="9.5" transform="rotate(-10 50.6 60.0)" fill="url(#km)" stroke="#765016" stroke-width="0.9"/>
<ellipse cx="34.1" cy="2.6" rx="12.0" ry="9.5" transform="rotate(90 33.4 1.0)" fill="#1f1002" opacity="0.8"/>
<ellipse cx="33.4" cy="1.0" rx="11.5" ry="9.0" transform="rotate(90 33.4 1.0)" fill="url(#km)" stroke="#765016" stroke-width="0.9"/>
<ellipse cx="90.1" cy="-1.6" rx="10.5" ry="11.0" transform="rotate(0 89.4 -3.2)" fill="#1f1002" opacity="0.8"/>
<ellipse cx="89.4" cy="-3.2" rx="10.0" ry="10.5" transform="rotate(0 89.4 -3.2)" fill="url(#km)" stroke="#765016" stroke-width="0.9"/>
<ellipse cx="58.3" cy="7.7" rx="11.0" ry="10.5" transform="rotate(90 57.6 6.1)" fill="#1f1002" opacity="0.8"/>
<ellipse cx="57.6" cy="6.1" rx="10.5" ry="10.0" transform="rotate(90 57.6 6.1)" fill="url(#km)" stroke="#765016" stroke-width="0.9"/>
<ellipse cx="-30.8" cy="17.8" rx="11.0" ry="10.5" transform="rotate(90 -31.5 16.2)" fill="#1f1002" opacity="0.8"/>
<ellipse cx="-31.5" cy="16.2" rx="10.5" ry="10.0" transform="rotate(90 -31.5 16.2)" fill="url(#km)" stroke="#765016" stroke-width="0.9"/>
<ellipse cx="46.9" cy="45.3" rx="11.0" ry="10.5" transform="rotate(0 46.2 43.7)" fill="#1f1002" opacity="0.8"/>
<ellipse cx="46.2" cy="43.7" rx="10.5" ry="10.0" transform="rotate(0 46.2 43.7)" fill="url(#km)" stroke="#765016" stroke-width="0.9"/>
<ellipse cx="6.5" cy="72.6" rx="11.0" ry="10.5" transform="rotate(90 5.8 71.0)" fill="#1f1002" opacity="0.8"/>
<ellipse cx="5.8" cy="71.0" rx="10.5" ry="10.0" transform="rotate(90 5.8 71.0)" fill="url(#km)" stroke="#765016" stroke-width="0.9"/>
<ellipse cx="74.2" cy="-35.9" rx="11.7" ry="10.0" transform="rotate(30 73.5 -37.5)" fill="#1f1002" opacity="0.8"/>
<ellipse cx="73.5" cy="-37.5" rx="11.2" ry="9.5" transform="rotate(30 73.5 -37.5)" fill="url(#km)" stroke="#765016" stroke-width="0.9"/>
<ellipse cx="74.2" cy="33.6" rx="11.7" ry="10.0" transform="rotate(80 73.5 32.0)" fill="#1f1002" opacity="0.8"/>
<ellipse cx="73.5" cy="32.0" rx="11.2" ry="9.5" transform="rotate(80 73.5 32.0)" fill="url(#km)" stroke="#765016" stroke-width="0.9"/>
<ellipse cx="-83.3" cy="-34.0" rx="12.5" ry="9.5" transform="rotate(80 -84.0 -35.6)" fill="#1f1002" opacity="0.8"/>
<ellipse cx="-84.0" cy="-35.6" rx="12.0" ry="9.0" transform="rotate(80 -84.0 -35.6)" fill="url(#km)" stroke="#765016" stroke-width="0.9"/>
<ellipse cx="-90.8" cy="-12.6" rx="11.0" ry="11.0" transform="rotate(0 -91.5 -14.2)" fill="#1f1002" opacity="0.8"/>
<ellipse cx="-91.5" cy="-14.2" rx="10.5" ry="10.5" transform="rotate(0 -91.5 -14.2)" fill="url(#km)" stroke="#765016" stroke-width="0.9"/>
<ellipse cx="-77.5" cy="46.5" rx="11.7" ry="10.5" transform="rotate(80 -78.2 44.9)" fill="#1f1002" opacity="0.8"/>
<ellipse cx="-78.2" cy="44.9" rx="11.2" ry="10.0" transform="rotate(80 -78.2 44.9)" fill="url(#km)" stroke="#765016" stroke-width="0.9"/>
<ellipse cx="-18.0" cy="3.3" rx="11.2" ry="11.0" transform="rotate(0 -18.7 1.7)" fill="#1f1002" opacity="0.8"/>
<ellipse cx="-18.7" cy="1.7" rx="10.7" ry="10.5" transform="rotate(0 -18.7 1.7)" fill="url(#km)" stroke="#765016" stroke-width="0.9"/>
<ellipse cx="55.1" cy="26.6" rx="12.5" ry="10.0" transform="rotate(-20 54.4 25.0)" fill="#1f1002" opacity="0.8"/>
<ellipse cx="54.4" cy="25.0" rx="12.0" ry="9.5" transform="rotate(-20 54.4 25.0)" fill="url(#km)" stroke="#765016" stroke-width="0.9"/>
<ellipse cx="17.0" cy="-58.5" rx="12.0" ry="10.5" transform="rotate(0 16.3 -60.1)" fill="#1f1002" opacity="0.8"/>
<ellipse cx="16.3" cy="-60.1" rx="11.5" ry="10.0" transform="rotate(0 16.3 -60.1)" fill="url(#kl)" stroke="#80581c" stroke-width="0.9"/>
<ellipse cx="-41.3" cy="78.0" rx="11.5" ry="11.0" transform="rotate(0 -42.0 76.4)" fill="#1f1002" opacity="0.8"/>
<ellipse cx="-42.0" cy="76.4" rx="11.0" ry="10.5" transform="rotate(0 -42.0 76.4)" fill="url(#km)" stroke="#765016" stroke-width="0.9"/>
<ellipse cx="-21.5" cy="-71.6" rx="11.2" ry="11.2" transform="rotate(0 -22.2 -73.2)" fill="#1f1002" opacity="0.8"/>
<ellipse cx="-22.2" cy="-73.2" rx="10.7" ry="10.7" transform="rotate(0 -22.2 -73.2)" fill="url(#km)" stroke="#765016" stroke-width="0.9"/>
<ellipse cx="-2.6" cy="-76.7" rx="11.0" ry="11.7" transform="rotate(0 -3.3 -78.3)" fill="#1f1002" opacity="0.8"/>
<ellipse cx="-3.3" cy="-78.3" rx="10.5" ry="11.2" transform="rotate(0 -3.3 -78.3)" fill="url(#kl)" stroke="#80581c" stroke-width="0.9"/>
<ellipse cx="60.2" cy="-62.7" rx="11.7" ry="11.2" transform="rotate(0 59.5 -64.3)" fill="#1f1002" opacity="0.8"/>
<ellipse cx="59.5" cy="-64.3" rx="11.2" ry="10.7" transform="rotate(0 59.5 -64.3)" fill="url(#km)" stroke="#765016" stroke-width="0.9"/>
<ellipse cx="20.5" cy="-25.9" rx="11.7" ry="11.2" transform="rotate(0 19.8 -27.5)" fill="#1f1002" opacity="0.8"/>
<ellipse cx="19.8" cy="-27.5" rx="11.2" ry="10.7" transform="rotate(0 19.8 -27.5)" fill="url(#ko)" stroke="#644010" stroke-width="0.9"/>
<ellipse cx="-54.6" cy="50.9" rx="11.7" ry="11.2" transform="rotate(0 -55.3 49.3)" fill="#1f1002" opacity="0.8"/>
<ellipse cx="-55.3" cy="49.3" rx="11.2" ry="10.7" transform="rotate(0 -55.3 49.3)" fill="url(#kl)" stroke="#80581c" stroke-width="0.9"/>
<ellipse cx="-64.6" cy="2.1" rx="12.0" ry="11.2" transform="rotate(0 -65.3 0.5)" fill="#1f1002" opacity="0.8"/>
<ellipse cx="-65.3" cy="0.5" rx="11.5" ry="10.7" transform="rotate(0 -65.3 0.5)" fill="url(#kl)" stroke="#80581c" stroke-width="0.9"/>
<ellipse cx="-13.3" cy="-31.2" rx="12.0" ry="11.5" transform="rotate(0 -14.0 -32.8)" fill="#1f1002" opacity="0.8"/>
<ellipse cx="-14.0" cy="-32.8" rx="11.5" ry="11.0" transform="rotate(0 -14.0 -32.8)" fill="url(#kl)" stroke="#80581c" stroke-width="0.9"/>
<ellipse cx="-53.7" cy="-15.6" rx="11.7" ry="11.7" transform="rotate(0 -54.4 -17.2)" fill="#1f1002" opacity="0.8"/>
<ellipse cx="-54.4" cy="-17.2" rx="11.2" ry="11.2" transform="rotate(0 -54.4 -17.2)" fill="url(#km)" stroke="#765016" stroke-width="0.9"/>
<ellipse cx="-14.9" cy="25.9" rx="11.7" ry="11.7" transform="rotate(0 -15.6 24.3)" fill="#1f1002" opacity="0.8"/>
<ellipse cx="-15.6" cy="24.3" rx="11.2" ry="11.2" transform="rotate(0 -15.6 24.3)" fill="url(#kl)" stroke="#80581c" stroke-width="0.9"/>
<ellipse cx="4.9" cy="32.9" rx="12.0" ry="11.7" transform="rotate(0 4.2 31.3)" fill="#1f1002" opacity="0.8"/>
<ellipse cx="4.2" cy="31.3" rx="11.5" ry="11.2" transform="rotate(0 4.2 31.3)" fill="url(#kl)" stroke="#80581c" stroke-width="0.9"/>
<ellipse cx="-21.0" cy="70.7" rx="12.5" ry="11.5" transform="rotate(90 -21.7 69.1)" fill="#1f1002" opacity="0.8"/>
<ellipse cx="-21.7" cy="69.1" rx="12.0" ry="11.0" transform="rotate(90 -21.7 69.1)" fill="url(#km)" stroke="#765016" stroke-width="0.9"/>
 </g>
 <circle cx="-0.4" cy="-2.7" r="100.75" fill="url(#warm)"/>
 <circle cx="-0.4" cy="-2.7" r="100.75" fill="url(#shade)"/>
 </g>
</g>
</defs>

<rect x="0" y="0" width="900" height="900" fill="#fff"/>
<rect x="0" y="0" width="899" height="163" fill="#0054a4"/>
<rect x="0" y="882" width="899" height="17" fill="#0054a4"/>
<use href="#bowl" x="303" y="376.8"/>
<use href="#bowl" x="588" y="376.4"/>
<use href="#bowl" x="303" y="725.7"/>
<use href="#bowl" x="588" y="725.7"/>
<path d="M300 230 H450 V520 H160 V371.5 H300 Z" fill="#fff" opacity="0.52"/>
<rect x="445" y="371" width="290" height="150" fill="#fff" opacity="0.52"/>
<rect x="160" y="720.5" width="140" height="150" fill="#fff" opacity="0.52"/>
<clipPath id="c1"><rect x="160" y="230" width="140" height="141.5"/></clipPath>
<clipPath id="c2"><rect x="445" y="230" width="290" height="141"/></clipPath>
<clipPath id="c3"><path d="M160 585 H450 V870 H300 V720.5 H160 Z"/></clipPath>
<path d="M163 236.8h280v280h-280Z M201.40000000000003 374.1a101.2 101.2 0 1 0 202.4 0a101.2 101.2 0 1 0 -202.4 0Z" clip-path="url(#c1)" fill="#fff" opacity="0.22" fill-rule="evenodd"/>
<path d="M448 236.39999999999998h280v280h-280Z M486.40000000000003 373.7a101.2 101.2 0 1 0 202.4 0a101.2 101.2 0 1 0 -202.4 0Z" clip-path="url(#c2)" fill="#fff" opacity="0.22" fill-rule="evenodd"/>
<path d="M163 585.7h280v280h-280Z M201.40000000000003 723.0a101.2 101.2 0 1 0 202.4 0a101.2 101.2 0 1 0 -202.4 0Z" clip-path="url(#c3)" fill="#fff" opacity="0.22" fill-rule="evenodd"/>
<path d="M300 237 V371.5 H166" stroke="#0c51a3" stroke-width="2.3" stroke-dasharray="9.3 1.6" stroke-dashoffset="1" fill="none"/>
<path d="M184.7 359.2 A117 117 0 0 1 278.7 257.1" stroke="#0c51a3" stroke-width="2.5" fill="none"/>
<path d="M0 0 L-10.5 -6.1 L-10.5 6.1 Z" transform="translate(288.8 256.1) rotate(354.0)" fill="#0c51a3"/>
<path d="M448 371 H725" stroke="#0c51a3" stroke-width="2.3" stroke-dasharray="9.3 1.6" stroke-dashoffset="1" fill="none"/>
<path d="M472.0 359.2 A117 117 0 0 1 703.9 353.7" stroke="#0c51a3" stroke-width="2.5" fill="none"/>
<path d="M0 0 L-10.5 -6.1 L-10.5 6.1 Z" transform="translate(704.1 362.9) rotate(85.5)" fill="#0c51a3"/>
<path d="M166 720.5 H300 V861" stroke="#0c51a3" stroke-width="2.3" stroke-dasharray="9.3 1.6" stroke-dashoffset="1" fill="none"/>
<path d="M184.7 708.2 A117 117 0 1 1 317.3 836.9" stroke="#0c51a3" stroke-width="2.5" fill="none"/>
<path d="M0 0 L-10.5 -6.1 L-10.5 6.1 Z" transform="translate(310.1 837.1) rotate(175.5)" fill="#0c51a3"/>
<rect x="331.6" y="207.7" width="14.0" height="4.8" fill="#0c51a3"/>
<rect x="624.3" y="207.7" width="14.1" height="4.8" fill="#0c51a3"/>
<rect x="341.3" y="554.0" width="14.4" height="4.8" fill="#0c51a3"/>
<path d="M743.7 687.2 L743.7 710.3 L738.1 710.3 L738.1 692.8 L734.2 694.4 L733.3 690.4 L738.9 687.2 Z" fill="#0c51a3"/>
<path d="M317.8 196.7 L317.8 220.0 L312.4 220.0 L312.4 202.1 L309.1 203.7 L308.2 199.7 L313.2 196.7 Z" fill="#0c51a3"/>
<text transform="translate(189.46 69.40) scale(1.0447 1)" font-family="Liberation Sans, sans-serif" font-weight="bold" font-size="52.46" fill="#fff" stroke="#fff" stroke-width="2.0" stroke-linejoin="round">CÓMO</text>
<text transform="translate(373.16 69.40) scale(1.0377 1)" font-family="Liberation Sans, sans-serif" font-weight="bold" font-size="52.46" fill="#fff" stroke="#fff" stroke-width="2.0" stroke-linejoin="round">CAMBIAR</text>
<text transform="translate(645.54 69.40) scale(0.9800 1)" font-family="Liberation Sans, sans-serif" font-weight="bold" font-size="52.46" fill="#fff" stroke="#fff" stroke-width="2.0" stroke-linejoin="round">EL</text>
<text transform="translate(75.00 124.60) scale(1.0706 1)" font-family="Liberation Sans, sans-serif" font-weight="bold" font-size="51.88" fill="#fff" stroke="#fff" stroke-width="2.0" stroke-linejoin="round">ALIMENTO</text>
<text transform="translate(378.77 124.60) scale(1.0129 1)" font-family="Liberation Sans, sans-serif" font-weight="bold" font-size="51.88" fill="#fff" stroke="#fff" stroke-width="2.0" stroke-linejoin="round">DE</text>
<text transform="translate(467.74 124.60) scale(1.0377 1)" font-family="Liberation Sans, sans-serif" font-weight="bold" font-size="51.88" fill="#fff" stroke="#fff" stroke-width="2.0" stroke-linejoin="round">TU</text>
<text transform="translate(554.60 124.60) scale(1.0480 1)" font-family="Liberation Sans, sans-serif" font-weight="bold" font-size="51.88" fill="#fff" stroke="#fff" stroke-width="2.0" stroke-linejoin="round">MASCOTA</text>
<text transform="translate(216.76 219.55) scale(1.0434 1)" font-family="Liberation Sans, sans-serif" font-weight="bold" font-size="32.46" fill="#0c51a3" stroke="#0c51a3" stroke-width="0.9" stroke-linejoin="round">DÍAS</text>
<text transform="translate(358.20 219.55) scale(0.9611 1)" font-family="Liberation Sans, sans-serif" font-weight="bold" font-size="32.46" fill="#0c51a3" stroke="#0c51a3" stroke-width="0.9" stroke-linejoin="round">2</text>
<text transform="translate(502.67 219.55) scale(1.0329 1)" font-family="Liberation Sans, sans-serif" font-weight="bold" font-size="32.46" fill="#0c51a3" stroke="#0c51a3" stroke-width="0.9" stroke-linejoin="round">DÍAS</text>
<text transform="translate(593.70 219.55) scale(1.0167 1)" font-family="Liberation Sans, sans-serif" font-weight="bold" font-size="32.46" fill="#0c51a3" stroke="#0c51a3" stroke-width="0.9" stroke-linejoin="round">3</text>
<text transform="translate(650.40 219.55) scale(1.0050 1)" font-family="Liberation Sans, sans-serif" font-weight="bold" font-size="32.46" fill="#0c51a3" stroke="#0c51a3" stroke-width="0.9" stroke-linejoin="round">4</text>
<text transform="translate(218.95 566.95) scale(1.0533 1)" font-family="Liberation Sans, sans-serif" font-weight="bold" font-size="31.88" fill="#0c51a3" stroke="#0c51a3" stroke-width="0.9" stroke-linejoin="round">DÍAS</text>
<text transform="translate(312.00 566.95) scale(0.9389 1)" font-family="Liberation Sans, sans-serif" font-weight="bold" font-size="31.88" fill="#0c51a3" stroke="#0c51a3" stroke-width="0.9" stroke-linejoin="round">5</text>
<text transform="translate(367.50 566.95) scale(1.0444 1)" font-family="Liberation Sans, sans-serif" font-weight="bold" font-size="31.88" fill="#0c51a3" stroke="#0c51a3" stroke-width="0.9" stroke-linejoin="round">6</text>
<text transform="translate(537.61 566.95) scale(1.0870 1)" font-family="Liberation Sans, sans-serif" font-weight="bold" font-size="31.88" fill="#0c51a3" stroke="#0c51a3" stroke-width="0.9" stroke-linejoin="round">DÍA</text>
<text transform="translate(609.60 566.95) scale(1.0059 1)" font-family="Liberation Sans, sans-serif" font-weight="bold" font-size="31.88" fill="#0c51a3" stroke="#0c51a3" stroke-width="0.9" stroke-linejoin="round">7</text>
<text transform="translate(90.80 366.35) scale(1.0714 1)" font-family="Liberation Sans, sans-serif" font-weight="bold" font-size="31.59" fill="#0c51a3" stroke="#0c51a3" stroke-width="0.7" stroke-linejoin="round">25</text>
<text transform="translate(131.30 366.50) scale(0.9034 1)" font-family="Liberation Sans, sans-serif" font-weight="bold" font-size="32.03" fill="#0c51a3" stroke="#0c51a3" stroke-width="0.4" stroke-linejoin="round">%</text>
<text transform="translate(732.50 366.35) scale(1.1286 1)" font-family="Liberation Sans, sans-serif" font-weight="bold" font-size="31.59" fill="#0c51a3" stroke="#0c51a3" stroke-width="0.7" stroke-linejoin="round">50</text>
<text transform="translate(775.80 366.50) scale(0.8931 1)" font-family="Liberation Sans, sans-serif" font-weight="bold" font-size="32.03" fill="#0c51a3" stroke="#0c51a3" stroke-width="0.4" stroke-linejoin="round">%</text>
<text transform="translate(92.50 709.95) scale(0.9861 1)" font-family="Liberation Sans, sans-serif" font-weight="bold" font-size="32.46" fill="#0c51a3" stroke="#0c51a3" stroke-width="0.7" stroke-linejoin="round">75</text>
<text transform="translate(131.30 710.10) scale(0.9034 1)" font-family="Liberation Sans, sans-serif" font-weight="bold" font-size="32.9" fill="#0c51a3" stroke="#0c51a3" stroke-width="0.4" stroke-linejoin="round">%</text>
<text transform="translate(747.20 709.95) scale(1.2250 1)" font-family="Liberation Sans, sans-serif" font-weight="bold" font-size="32.46" fill="#0c51a3" stroke="#0c51a3" stroke-width="0.7" stroke-linejoin="round">00</text>
<text transform="translate(794.70 710.10) scale(0.8724 1)" font-family="Liberation Sans, sans-serif" font-weight="bold" font-size="32.9" fill="#0c51a3" stroke="#0c51a3" stroke-width="0.4" stroke-linejoin="round">%</text>
<text transform="translate(51.42 384.30) scale(1.0825 1)" font-family="Liberation Sans, sans-serif" font-weight="normal" font-size="17.1" fill="#4f78bb">DEL NUEVO</text>
<text transform="translate(64.20 404.80) scale(1.0367 1)" font-family="Liberation Sans, sans-serif" font-weight="normal" font-size="17.68" fill="#4f78bb">ALIMENTO</text>
<text transform="translate(732.22 384.30) scale(1.0825 1)" font-family="Liberation Sans, sans-serif" font-weight="normal" font-size="17.1" fill="#4f78bb">DEL NUEVO</text>
<text transform="translate(733.30 404.80) scale(1.0278 1)" font-family="Liberation Sans, sans-serif" font-weight="normal" font-size="17.68" fill="#4f78bb">ALIMENTO</text>
<text transform="translate(51.39 728.80) scale(1.1053 1)" font-family="Liberation Sans, sans-serif" font-weight="normal" font-size="16.81" fill="#4f78bb">DEL NUEVO</text>
<text transform="translate(64.20 749.20) scale(1.0602 1)" font-family="Liberation Sans, sans-serif" font-weight="normal" font-size="17.25" fill="#4f78bb">ALIMENTO</text>
<text transform="translate(732.19 728.80) scale(1.1053 1)" font-family="Liberation Sans, sans-serif" font-weight="normal" font-size="16.81" fill="#4f78bb">DEL NUEVO</text>
<text transform="translate(733.30 749.20) scale(1.0511 1)" font-family="Liberation Sans, sans-serif" font-weight="normal" font-size="17.25" fill="#4f78bb">ALIMENTO</text>
</svg>
</body></html>
